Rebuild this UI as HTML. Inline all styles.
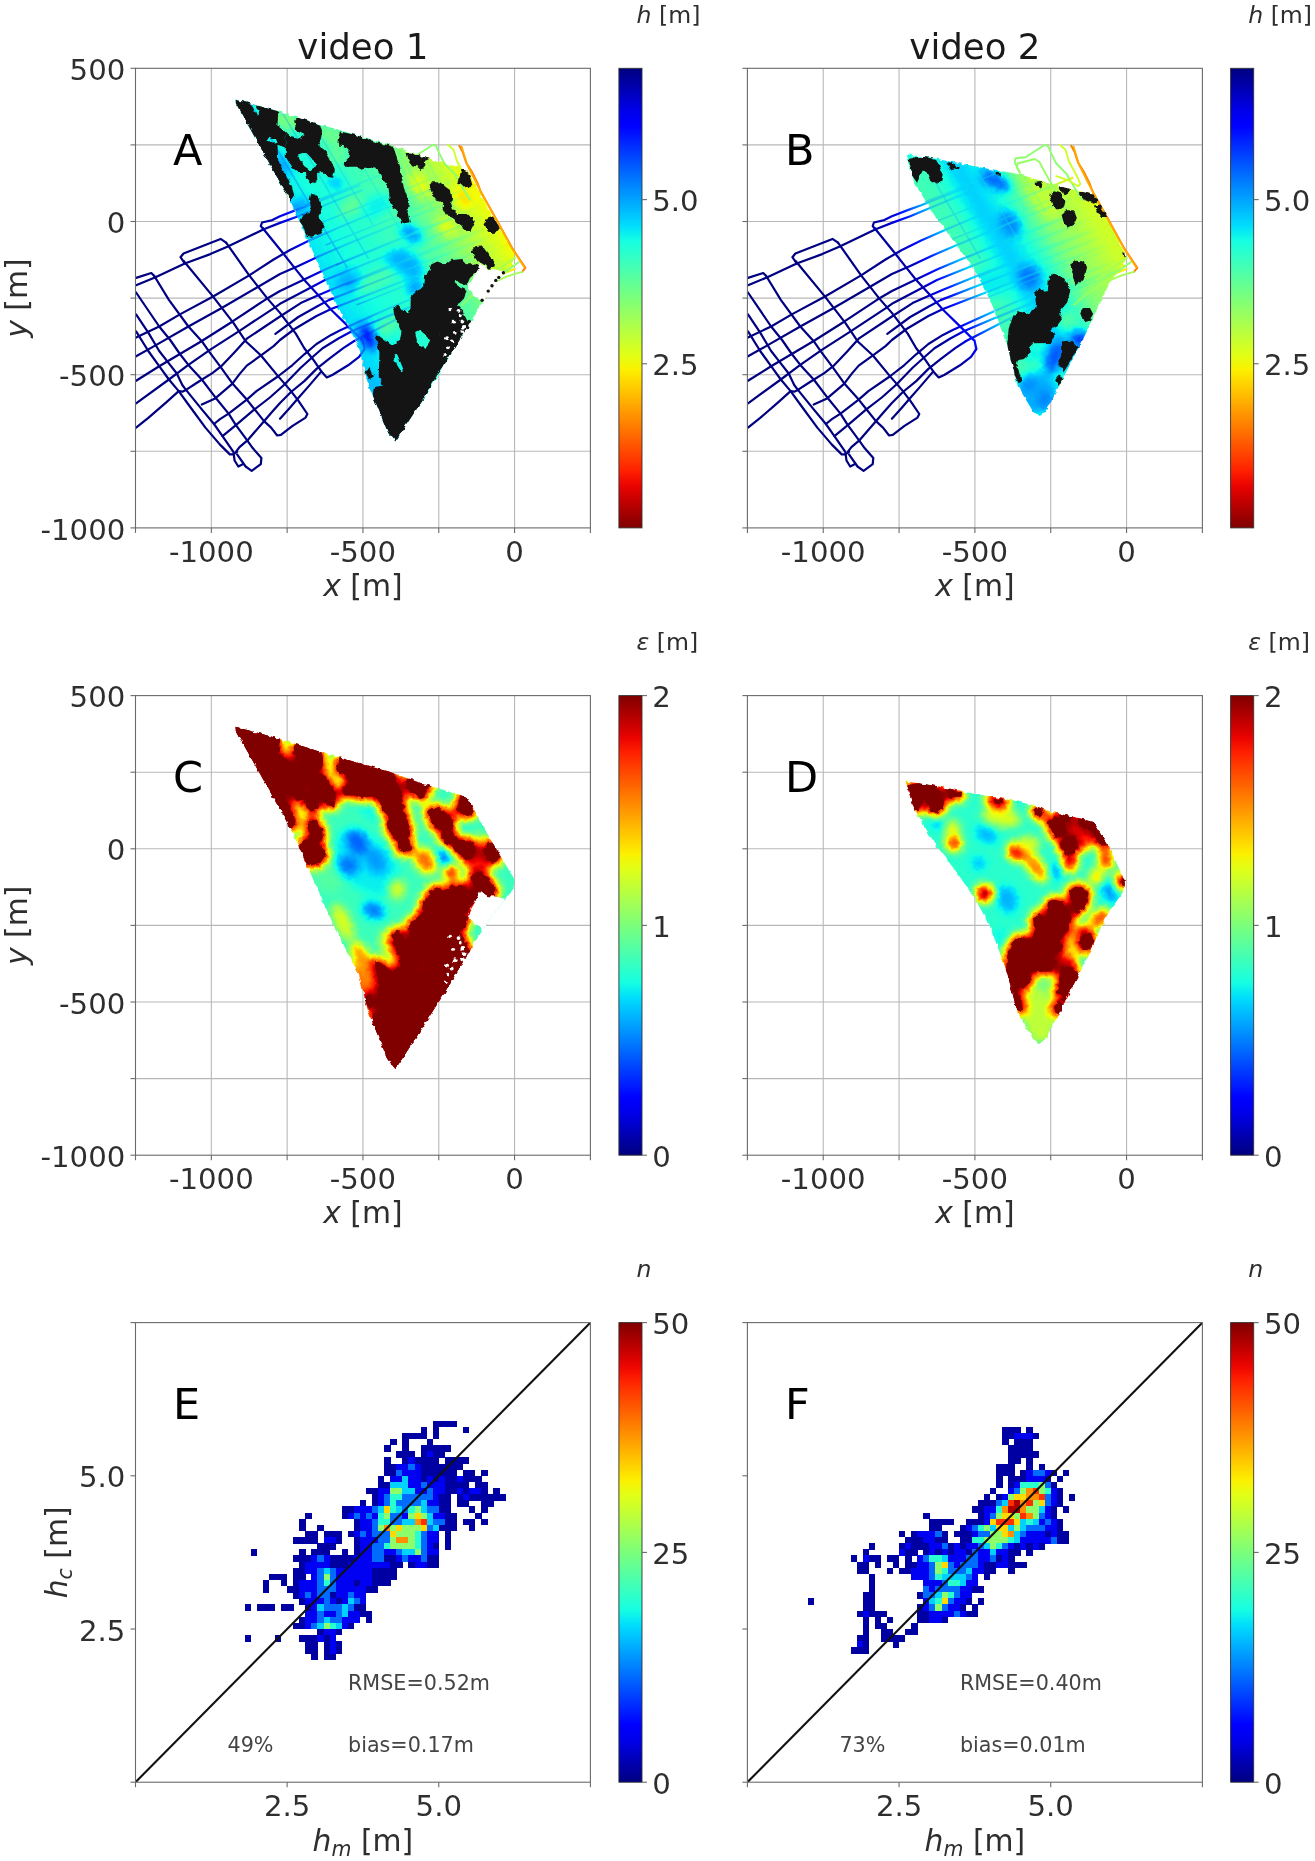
<!DOCTYPE html>
<html><head><meta charset="utf-8"><title>figure</title>
<style>html,body{margin:0;padding:0;background:#fff;}svg{display:block;opacity:0.999;}</style></head>
<body>
<svg width="1315" height="1861" viewBox="0 0 1315 1861" font-family="DejaVu Sans, Liberation Sans, sans-serif"><defs><linearGradient id="gjr" x1="0" y1="0" x2="0" y2="1"><stop offset="0.0000" stop-color="#000080"/><stop offset="0.0312" stop-color="#0000a4"/><stop offset="0.0625" stop-color="#0000c8"/><stop offset="0.0938" stop-color="#0000ec"/><stop offset="0.1250" stop-color="#0000ff"/><stop offset="0.1562" stop-color="#0020ff"/><stop offset="0.1875" stop-color="#0040ff"/><stop offset="0.2188" stop-color="#0060ff"/><stop offset="0.2500" stop-color="#0080ff"/><stop offset="0.2812" stop-color="#009fff"/><stop offset="0.3125" stop-color="#00bfff"/><stop offset="0.3438" stop-color="#00dffc"/><stop offset="0.3750" stop-color="#15ffe2"/><stop offset="0.4062" stop-color="#2effc9"/><stop offset="0.4375" stop-color="#48ffaf"/><stop offset="0.4688" stop-color="#62ff95"/><stop offset="0.5000" stop-color="#7bff7b"/><stop offset="0.5312" stop-color="#95ff62"/><stop offset="0.5625" stop-color="#afff48"/><stop offset="0.5938" stop-color="#c9ff2e"/><stop offset="0.6250" stop-color="#e2ff15"/><stop offset="0.6562" stop-color="#fcf000"/><stop offset="0.6875" stop-color="#ffd200"/><stop offset="0.7188" stop-color="#ffb500"/><stop offset="0.7500" stop-color="#ff9700"/><stop offset="0.7812" stop-color="#ff7a00"/><stop offset="0.8125" stop-color="#ff5c00"/><stop offset="0.8438" stop-color="#ff3f00"/><stop offset="0.8750" stop-color="#ff2100"/><stop offset="0.9062" stop-color="#ec0400"/><stop offset="0.9375" stop-color="#c80000"/><stop offset="0.9688" stop-color="#a40000"/><stop offset="1.0000" stop-color="#800000"/></linearGradient><linearGradient id="gj" x1="0" y1="0" x2="0" y2="1"><stop offset="0.0000" stop-color="#800000"/><stop offset="0.0312" stop-color="#a40000"/><stop offset="0.0625" stop-color="#c80000"/><stop offset="0.0938" stop-color="#ec0400"/><stop offset="0.1250" stop-color="#ff2100"/><stop offset="0.1562" stop-color="#ff3f00"/><stop offset="0.1875" stop-color="#ff5c00"/><stop offset="0.2188" stop-color="#ff7a00"/><stop offset="0.2500" stop-color="#ff9700"/><stop offset="0.2812" stop-color="#ffb500"/><stop offset="0.3125" stop-color="#ffd200"/><stop offset="0.3438" stop-color="#fcf000"/><stop offset="0.3750" stop-color="#e2ff15"/><stop offset="0.4062" stop-color="#c9ff2e"/><stop offset="0.4375" stop-color="#afff48"/><stop offset="0.4688" stop-color="#95ff62"/><stop offset="0.5000" stop-color="#7bff7b"/><stop offset="0.5312" stop-color="#62ff95"/><stop offset="0.5625" stop-color="#48ffaf"/><stop offset="0.5938" stop-color="#2effc9"/><stop offset="0.6250" stop-color="#15ffe2"/><stop offset="0.6562" stop-color="#00dffc"/><stop offset="0.6875" stop-color="#00bfff"/><stop offset="0.7188" stop-color="#009fff"/><stop offset="0.7500" stop-color="#0080ff"/><stop offset="0.7812" stop-color="#0060ff"/><stop offset="0.8125" stop-color="#0040ff"/><stop offset="0.8438" stop-color="#0020ff"/><stop offset="0.8750" stop-color="#0000ff"/><stop offset="0.9062" stop-color="#0000ec"/><stop offset="0.9375" stop-color="#0000c8"/><stop offset="0.9688" stop-color="#0000a4"/><stop offset="1.0000" stop-color="#000080"/></linearGradient><clipPath id="cpA"><polygon points="235.5,99.5 278.2,111.3 319.3,124.2 392.3,145.5 425.4,157.4 446.1,163.5 460.7,167.7 468.0,171.4 492.3,215.2 514.5,252.0 513.5,261.0 506.0,272.0 498.8,279.0 483.6,300.2 442.5,368.6 421.3,402.1 395.4,441.6 387.8,432.5 368.0,383.8 358.9,347.3 334.6,300.2 290.4,201.0 235.6,102.9"/></clipPath><clipPath id="cpB"><polygon points="906.7,154.3 938.0,159.0 976.0,166.6 1014.1,173.3 1033.1,178.0 1052.1,184.7 1080.6,191.3 1093.9,195.1 1107.2,216.0 1124.3,252.2 1125.3,261.7 1109.1,284.5 1101.4,299.5 1086.2,333.0 1057.3,389.3 1045.2,412.1 1039.1,416.7 1031.5,409.0 1017.8,386.2 1007.1,345.2 998.0,320.8 989.4,297.8 976.0,273.1 957.0,245.5 936.1,217.9 914.3,182.8 906.7,158.0"/></clipPath><clipPath id="cpC"><polygon points="235.5,726.8 278.2,738.6 319.3,751.5 392.3,772.8 425.4,784.7 446.1,790.8 460.7,795.0 468.0,798.7 492.3,842.5 514.5,879.3 513.5,888.3 506.0,899.3 498.8,906.3 483.6,927.5 442.5,995.9 421.3,1029.4 395.4,1068.9 387.8,1059.8 368.0,1011.1 358.9,974.6 334.6,927.5 290.4,828.3 235.6,730.2"/></clipPath><clipPath id="cpD"><polygon points="906.7,781.6 938.0,786.3 976.0,793.9 1014.1,800.6 1033.1,805.3 1052.1,812.0 1080.6,818.6 1093.9,822.4 1107.2,843.3 1124.3,879.5 1125.3,889.0 1109.1,911.8 1101.4,926.8 1086.2,960.3 1057.3,1016.6 1045.2,1039.4 1039.1,1044.0 1031.5,1036.3 1017.8,1013.5 1007.1,972.5 998.0,948.1 989.4,925.1 976.0,900.4 957.0,872.8 936.1,845.2 914.3,810.1 906.7,785.3"/></clipPath><clipPath id="ax00"><rect x="135.5" y="68.3" width="454.9" height="459.59999999999997"/></clipPath><clipPath id="ax01"><rect x="135.5" y="695.6" width="454.9" height="459.6"/></clipPath><clipPath id="ax02"><rect x="135.5" y="1322.6" width="454.9" height="459.60000000000014"/></clipPath><clipPath id="ax10"><rect x="747.4" y="68.3" width="455.0000000000001" height="459.59999999999997"/></clipPath><clipPath id="ax11"><rect x="747.4" y="695.6" width="455.0000000000001" height="459.6"/></clipPath><clipPath id="ax12"><rect x="747.4" y="1322.6" width="455.0000000000001" height="459.60000000000014"/></clipPath><clipPath id="cpAo"><path clip-rule="evenodd" d="M0,0H1315V1861H0Z M235.5,99.5 L278.2,111.3 L319.3,124.2 L392.3,145.5 L425.4,157.4 L446.1,163.5 L460.7,167.7 L468.0,171.4 L492.3,215.2 L514.5,252.0 L513.5,261.0 L506.0,272.0 L498.8,279.0 L483.6,300.2 L442.5,368.6 L421.3,402.1 L395.4,441.6 L387.8,432.5 L368.0,383.8 L358.9,347.3 L334.6,300.2 L290.4,201.0 L235.6,102.9Z"/></clipPath><clipPath id="cpBo"><path clip-rule="evenodd" d="M0,0H1315V1861H0Z M906.7,154.3 L938.0,159.0 L976.0,166.6 L1014.1,173.3 L1033.1,178.0 L1052.1,184.7 L1080.6,191.3 L1093.9,195.1 L1107.2,216.0 L1124.3,252.2 L1125.3,261.7 L1109.1,284.5 L1101.4,299.5 L1086.2,333.0 L1057.3,389.3 L1045.2,412.1 L1039.1,416.7 L1031.5,409.0 L1017.8,386.2 L1007.1,345.2 L998.0,320.8 L989.4,297.8 L976.0,273.1 L957.0,245.5 L936.1,217.9 L914.3,182.8 L906.7,158.0Z"/></clipPath><linearGradient id="tgA" gradientUnits="userSpaceOnUse" x1="34.4" y1="-20.3" x2="279.8" y2="-165.1"><stop offset="0.000" stop-color="#000080"/><stop offset="0.211" stop-color="#00008b"/><stop offset="0.281" stop-color="#0000ae"/><stop offset="0.333" stop-color="#0000f3"/><stop offset="0.368" stop-color="#0024ff"/><stop offset="0.404" stop-color="#0075ff"/><stop offset="0.456" stop-color="#00d1ff"/><stop offset="0.561" stop-color="#19ffde"/><stop offset="0.737" stop-color="#52ffa5"/><stop offset="0.860" stop-color="#adff4a"/><stop offset="0.930" stop-color="#ffec00"/><stop offset="0.968" stop-color="#ff8e00"/><stop offset="1.000" stop-color="#ff6800"/></linearGradient><linearGradient id="tgB" gradientUnits="userSpaceOnUse" x1="646.3" y1="-20.3" x2="891.7" y2="-165.1"><stop offset="0.000" stop-color="#000080"/><stop offset="0.211" stop-color="#00008b"/><stop offset="0.281" stop-color="#0000ae"/><stop offset="0.333" stop-color="#0000f3"/><stop offset="0.368" stop-color="#0024ff"/><stop offset="0.404" stop-color="#0075ff"/><stop offset="0.456" stop-color="#00d1ff"/><stop offset="0.561" stop-color="#19ffde"/><stop offset="0.737" stop-color="#52ffa5"/><stop offset="0.860" stop-color="#adff4a"/><stop offset="0.930" stop-color="#ffec00"/><stop offset="0.968" stop-color="#ff8e00"/><stop offset="1.000" stop-color="#ff6800"/></linearGradient><linearGradient id="tgAi" gradientUnits="userSpaceOnUse" x1="34.4" y1="-20.3" x2="279.8" y2="-165.1"><stop offset="0.000" stop-color="#000080"/><stop offset="0.211" stop-color="#00008b"/><stop offset="0.281" stop-color="#0000ae"/><stop offset="0.333" stop-color="#0000f3"/><stop offset="0.368" stop-color="#0024ff"/><stop offset="0.404" stop-color="#0038ff"/><stop offset="0.456" stop-color="#0094ff"/><stop offset="0.561" stop-color="#00c7ff"/><stop offset="0.737" stop-color="#21ffd6"/><stop offset="0.860" stop-color="#7bff7b"/><stop offset="0.930" stop-color="#ceff29"/><stop offset="0.968" stop-color="#ffc600"/><stop offset="1.000" stop-color="#ffa100"/></linearGradient><linearGradient id="tgBi" gradientUnits="userSpaceOnUse" x1="646.3" y1="-20.3" x2="891.7" y2="-165.1"><stop offset="0.000" stop-color="#000080"/><stop offset="0.211" stop-color="#00008b"/><stop offset="0.281" stop-color="#0000ae"/><stop offset="0.333" stop-color="#0000f3"/><stop offset="0.368" stop-color="#0024ff"/><stop offset="0.404" stop-color="#0038ff"/><stop offset="0.456" stop-color="#0094ff"/><stop offset="0.561" stop-color="#00c7ff"/><stop offset="0.737" stop-color="#21ffd6"/><stop offset="0.860" stop-color="#7bff7b"/><stop offset="0.930" stop-color="#ceff29"/><stop offset="0.968" stop-color="#ffc600"/><stop offset="1.000" stop-color="#ffa100"/></linearGradient><linearGradient id="bgA" gradientUnits="userSpaceOnUse" x1="86.1" y1="-50.8" x2="292.7" y2="-172.7"><stop offset="0.000" stop-color="#4c4c4c"/><stop offset="0.208" stop-color="#5c5c5c"/><stop offset="0.417" stop-color="#666666"/><stop offset="0.625" stop-color="#757575"/><stop offset="0.792" stop-color="#949494"/><stop offset="0.917" stop-color="#a8a8a8"/></linearGradient><linearGradient id="bgB" gradientUnits="userSpaceOnUse" x1="698.0" y1="-50.8" x2="904.6" y2="-172.7"><stop offset="0.000" stop-color="#6b6b6b"/><stop offset="0.208" stop-color="#707070"/><stop offset="0.354" stop-color="#6b6b6b"/><stop offset="0.467" stop-color="#525252"/><stop offset="0.562" stop-color="#616161"/><stop offset="0.667" stop-color="#808080"/><stop offset="0.833" stop-color="#969696"/><stop offset="0.917" stop-color="#a1a1a1"/></linearGradient><filter id="jm5" x="-10%" y="-10%" width="120%" height="120%" color-interpolation-filters="sRGB"><feGaussianBlur stdDeviation="5"/><feComponentTransfer><feFuncR type="table" tableValues="0.000 0.000 0.000 0.000 0.000 0.000 0.000 0.000 0.000 0.000 0.000 0.000 0.000 0.000 0.000 0.000 0.000 0.000 0.000 0.000 0.000 0.000 0.000 0.030 0.081 0.131 0.181 0.232 0.282 0.333 0.383 0.433 0.484 0.534 0.585 0.635 0.685 0.736 0.786 0.837 0.887 0.937 0.988 1.000 1.000 1.000 1.000 1.000 1.000 1.000 1.000 1.000 1.000 1.000 1.000 1.000 1.000 0.997 0.926 0.855 0.784 0.713 0.642 0.571 0.500"/><feFuncG type="table" tableValues="0.000 0.000 0.000 0.000 0.000 0.000 0.000 0.000 0.000 0.062 0.125 0.188 0.250 0.312 0.375 0.438 0.500 0.562 0.625 0.688 0.750 0.812 0.875 0.938 1.000 1.000 1.000 1.000 1.000 1.000 1.000 1.000 1.000 1.000 1.000 1.000 1.000 1.000 1.000 1.000 1.000 0.998 0.940 0.882 0.824 0.766 0.708 0.650 0.593 0.535 0.477 0.419 0.361 0.303 0.245 0.188 0.130 0.072 0.014 0.000 0.000 0.000 0.000 0.000 0.000"/><feFuncB type="table" tableValues="0.500 0.571 0.642 0.713 0.784 0.855 0.926 0.997 1.000 1.000 1.000 1.000 1.000 1.000 1.000 1.000 1.000 1.000 1.000 1.000 1.000 1.000 0.988 0.938 0.887 0.837 0.786 0.736 0.685 0.635 0.585 0.534 0.484 0.433 0.383 0.333 0.282 0.232 0.181 0.131 0.081 0.030 0.000 0.000 0.000 0.000 0.000 0.000 0.000 0.000 0.000 0.000 0.000 0.000 0.000 0.000 0.000 0.000 0.000 0.000 0.000 0.000 0.000 0.000 0.000"/></feComponentTransfer></filter><filter id="jm3" x="-10%" y="-10%" width="120%" height="120%" color-interpolation-filters="sRGB"><feGaussianBlur stdDeviation="4.4"/><feComponentTransfer><feFuncR type="table" tableValues="0.000 0.000 0.000 0.000 0.000 0.000 0.000 0.000 0.000 0.000 0.000 0.000 0.000 0.000 0.000 0.000 0.000 0.000 0.000 0.000 0.000 0.000 0.000 0.030 0.081 0.131 0.181 0.232 0.282 0.333 0.383 0.433 0.484 0.534 0.585 0.635 0.685 0.736 0.786 0.837 0.887 0.937 0.988 1.000 1.000 1.000 1.000 1.000 1.000 1.000 1.000 1.000 1.000 1.000 1.000 1.000 1.000 0.997 0.926 0.855 0.784 0.713 0.642 0.571 0.500"/><feFuncG type="table" tableValues="0.000 0.000 0.000 0.000 0.000 0.000 0.000 0.000 0.000 0.062 0.125 0.188 0.250 0.312 0.375 0.438 0.500 0.562 0.625 0.688 0.750 0.812 0.875 0.938 1.000 1.000 1.000 1.000 1.000 1.000 1.000 1.000 1.000 1.000 1.000 1.000 1.000 1.000 1.000 1.000 1.000 0.998 0.940 0.882 0.824 0.766 0.708 0.650 0.593 0.535 0.477 0.419 0.361 0.303 0.245 0.188 0.130 0.072 0.014 0.000 0.000 0.000 0.000 0.000 0.000"/><feFuncB type="table" tableValues="0.500 0.571 0.642 0.713 0.784 0.855 0.926 0.997 1.000 1.000 1.000 1.000 1.000 1.000 1.000 1.000 1.000 1.000 1.000 1.000 1.000 1.000 0.988 0.938 0.887 0.837 0.786 0.736 0.685 0.635 0.585 0.534 0.484 0.433 0.383 0.333 0.282 0.232 0.181 0.131 0.081 0.030 0.000 0.000 0.000 0.000 0.000 0.000 0.000 0.000 0.000 0.000 0.000 0.000 0.000 0.000 0.000 0.000 0.000 0.000 0.000 0.000 0.000 0.000 0.000"/></feComponentTransfer></filter><filter id="jm2" x="-10%" y="-10%" width="120%" height="120%" color-interpolation-filters="sRGB"><feGaussianBlur stdDeviation="2.2"/><feComponentTransfer><feFuncR type="table" tableValues="0.000 0.000 0.000 0.000 0.000 0.000 0.000 0.000 0.000 0.000 0.000 0.000 0.000 0.000 0.000 0.000 0.000 0.000 0.000 0.000 0.000 0.000 0.000 0.030 0.081 0.131 0.181 0.232 0.282 0.333 0.383 0.433 0.484 0.534 0.585 0.635 0.685 0.736 0.786 0.837 0.887 0.937 0.988 1.000 1.000 1.000 1.000 1.000 1.000 1.000 1.000 1.000 1.000 1.000 1.000 1.000 1.000 0.997 0.926 0.855 0.784 0.713 0.642 0.571 0.500"/><feFuncG type="table" tableValues="0.000 0.000 0.000 0.000 0.000 0.000 0.000 0.000 0.000 0.062 0.125 0.188 0.250 0.312 0.375 0.438 0.500 0.562 0.625 0.688 0.750 0.812 0.875 0.938 1.000 1.000 1.000 1.000 1.000 1.000 1.000 1.000 1.000 1.000 1.000 1.000 1.000 1.000 1.000 1.000 1.000 0.998 0.940 0.882 0.824 0.766 0.708 0.650 0.593 0.535 0.477 0.419 0.361 0.303 0.245 0.188 0.130 0.072 0.014 0.000 0.000 0.000 0.000 0.000 0.000"/><feFuncB type="table" tableValues="0.500 0.571 0.642 0.713 0.784 0.855 0.926 0.997 1.000 1.000 1.000 1.000 1.000 1.000 1.000 1.000 1.000 1.000 1.000 1.000 1.000 1.000 0.988 0.938 0.887 0.837 0.786 0.736 0.685 0.635 0.585 0.534 0.484 0.433 0.383 0.333 0.282 0.232 0.181 0.131 0.081 0.030 0.000 0.000 0.000 0.000 0.000 0.000 0.000 0.000 0.000 0.000 0.000 0.000 0.000 0.000 0.000 0.000 0.000 0.000 0.000 0.000 0.000 0.000 0.000"/></feComponentTransfer></filter><filter id="jm7" x="-10%" y="-10%" width="120%" height="120%" color-interpolation-filters="sRGB"><feGaussianBlur stdDeviation="7"/><feComponentTransfer><feFuncR type="table" tableValues="0.000 0.000 0.000 0.000 0.000 0.000 0.000 0.000 0.000 0.000 0.000 0.000 0.000 0.000 0.000 0.000 0.000 0.000 0.000 0.000 0.000 0.000 0.000 0.030 0.081 0.131 0.181 0.232 0.282 0.333 0.383 0.433 0.484 0.534 0.585 0.635 0.685 0.736 0.786 0.837 0.887 0.937 0.988 1.000 1.000 1.000 1.000 1.000 1.000 1.000 1.000 1.000 1.000 1.000 1.000 1.000 1.000 0.997 0.926 0.855 0.784 0.713 0.642 0.571 0.500"/><feFuncG type="table" tableValues="0.000 0.000 0.000 0.000 0.000 0.000 0.000 0.000 0.000 0.062 0.125 0.188 0.250 0.312 0.375 0.438 0.500 0.562 0.625 0.688 0.750 0.812 0.875 0.938 1.000 1.000 1.000 1.000 1.000 1.000 1.000 1.000 1.000 1.000 1.000 1.000 1.000 1.000 1.000 1.000 1.000 0.998 0.940 0.882 0.824 0.766 0.708 0.650 0.593 0.535 0.477 0.419 0.361 0.303 0.245 0.188 0.130 0.072 0.014 0.000 0.000 0.000 0.000 0.000 0.000"/><feFuncB type="table" tableValues="0.500 0.571 0.642 0.713 0.784 0.855 0.926 0.997 1.000 1.000 1.000 1.000 1.000 1.000 1.000 1.000 1.000 1.000 1.000 1.000 1.000 1.000 0.988 0.938 0.887 0.837 0.786 0.736 0.685 0.635 0.585 0.534 0.484 0.433 0.383 0.333 0.282 0.232 0.181 0.131 0.081 0.030 0.000 0.000 0.000 0.000 0.000 0.000 0.000 0.000 0.000 0.000 0.000 0.000 0.000 0.000 0.000 0.000 0.000 0.000 0.000 0.000 0.000 0.000 0.000"/></feComponentTransfer></filter><filter id="rag" x="-5%" y="-5%" width="110%" height="110%" color-interpolation-filters="sRGB"><feTurbulence type="fractalNoise" baseFrequency="0.22" numOctaves="1" seed="7" result="n"/><feDisplacementMap in="SourceGraphic" in2="n" scale="4.5" xChannelSelector="R" yChannelSelector="G"/></filter></defs>
<line x1="211.32" y1="68.30" x2="211.32" y2="527.90" stroke="#b8b8b8" stroke-width="1.1"/>
<line x1="135.50" y1="144.90" x2="590.40" y2="144.90" stroke="#b8b8b8" stroke-width="1.1"/>
<line x1="287.13" y1="68.30" x2="287.13" y2="527.90" stroke="#b8b8b8" stroke-width="1.1"/>
<line x1="135.50" y1="221.50" x2="590.40" y2="221.50" stroke="#b8b8b8" stroke-width="1.1"/>
<line x1="362.95" y1="68.30" x2="362.95" y2="527.90" stroke="#b8b8b8" stroke-width="1.1"/>
<line x1="135.50" y1="298.10" x2="590.40" y2="298.10" stroke="#b8b8b8" stroke-width="1.1"/>
<line x1="438.77" y1="68.30" x2="438.77" y2="527.90" stroke="#b8b8b8" stroke-width="1.1"/>
<line x1="135.50" y1="374.70" x2="590.40" y2="374.70" stroke="#b8b8b8" stroke-width="1.1"/>
<line x1="514.58" y1="68.30" x2="514.58" y2="527.90" stroke="#b8b8b8" stroke-width="1.1"/>
<line x1="135.50" y1="451.30" x2="590.40" y2="451.30" stroke="#b8b8b8" stroke-width="1.1"/>
<g clip-path="url(#ax00)"><g filter="url(#rag)"><g clip-path="url(#cpA)"><g filter="url(#jm5)"><rect x="200" y="60" width="360" height="420" fill="url(#bgA)"/><ellipse cx="285.8" cy="120.4" rx="16" ry="9" fill="#808080" transform="rotate(20 285.8 120.4)"/><ellipse cx="331.5" cy="135.6" rx="18" ry="9" fill="#7a7a7a" transform="rotate(20 331.5 135.6)"/><ellipse cx="336.0" cy="155.4" rx="10" ry="8" fill="#787878" transform="rotate(0 336.0 155.4)"/><ellipse cx="351.2" cy="205.6" rx="14" ry="8" fill="#787878" transform="rotate(-40 351.2 205.6)"/><ellipse cx="281.3" cy="166.0" rx="7" ry="12" fill="#474747" transform="rotate(-30 281.3 166.0)"/><ellipse cx="298.0" cy="207.1" rx="12" ry="6" fill="#454545" transform="rotate(-20 298.0 207.1)"/><ellipse cx="336.0" cy="182.8" rx="8" ry="5" fill="#4a4a4a" transform="rotate(30 336.0 182.8)"/><ellipse cx="412.1" cy="233.0" rx="12" ry="7" fill="#404040" transform="rotate(35 412.1 233.0)"/><ellipse cx="377.1" cy="205.6" rx="16" ry="10" fill="#5c5c5c" transform="rotate(-30 377.1 205.6)"/><ellipse cx="419.3" cy="184.8" rx="14" ry="8" fill="#a3a3a3" transform="rotate(55 419.3 184.8)"/><ellipse cx="463.1" cy="198.1" rx="12" ry="8" fill="#adadad" transform="rotate(55 463.1 198.1)"/><ellipse cx="446.1" cy="227.3" rx="11" ry="7" fill="#a3a3a3" transform="rotate(40 446.1 227.3)"/><ellipse cx="410.8" cy="234.6" rx="14" ry="7" fill="#454545" transform="rotate(35 410.8 234.6)"/><ellipse cx="407.2" cy="263.8" rx="20" ry="12" fill="#4c4c4c" transform="rotate(40 407.2 263.8)"/><ellipse cx="368.0" cy="336.7" rx="6" ry="14" fill="#1a1a1a" transform="rotate(-25 368.0 336.7)"/><ellipse cx="375.6" cy="280.4" rx="22" ry="8" fill="#707070" transform="rotate(-30 375.6 280.4)"/><ellipse cx="348.3" cy="280.4" rx="12" ry="10" fill="#4c4c4c" transform="rotate(0 348.3 280.4)"/><ellipse cx="395.4" cy="259.1" rx="12" ry="7" fill="#4c4c4c" transform="rotate(0 395.4 259.1)"/><ellipse cx="415.2" cy="288.0" rx="9" ry="7" fill="#424242" transform="rotate(0 415.2 288.0)"/><ellipse cx="387.8" cy="326.0" rx="14" ry="8" fill="#737373" transform="rotate(-35 387.8 326.0)"/><ellipse cx="375.6" cy="382.3" rx="8" ry="5" fill="#4c4c4c" transform="rotate(0 375.6 382.3)"/></g></g></g><g clip-path="url(#cpAo)"><g fill="none" stroke="url(#tgA)" stroke-width="2.2" stroke-linejoin="round" stroke-linecap="round" opacity="1"><polyline points="136.1,285.2 155.5,277.3 184.8,263.5 210.3,254.1 227.3,246.8 263.8,229.2 280.0,222.9 298.3,216.2 330.0,203.0 345.9,196.5 361.9,190.2"/><polyline points="136.1,277.9 151.3,273.0 154.3,276.0"/><polyline points="184.8,263.5 180.5,257.2 183.5,253.5 220.6,238.9 226.1,242.6"/><polyline points="263.8,229.2 260.8,226.2 262.0,222.5 272.4,220.1 280.0,216.2 295.8,210.1 309.2,205.2 335.0,195.0 347.0,190.2 359.1,185.4"/><polyline points="154.3,276.0 168.9,299.8 188.4,326.5 201.8,341.2 209.1,351.6 220.0,366.2 232.2,383.2 246.8,399.6 254.1,408.7 263.8,420.9 271.1,427.6 277.2,435.5 280.9,434.9 292.2,426.1 305.6,417.6 307.4,414.0 298.3,400.6 290.0,389.9 277.8,375.9 260.8,355.2 245.6,341.2 233.4,322.9 212.7,296.1 183.5,260.8"/><polyline points="226.1,242.6 249.2,275.4 267.5,298.6 280.0,312.9 295.8,333.6 304.3,348.3 312.9,359.2 321.4,371.4 326.8,377.5 332.3,375.0 348.1,365.3 359.1,356.8 364.5,349.0 362.7,340.9 346.9,325.1 331.1,309.8 317.7,294.6 304.3,280.0 294.6,267.9 283.3,253.5 262.6,228.0"/><polyline points="136.1,292.5 159.2,326.5 170.2,340.0 179.9,354.0 188.4,364.9 201.8,379.5 215.2,397.2 228.6,413.6 235.9,425.2 246.8,439.8 252.9,448.3 261.4,458.0 260.8,464.1 251.7,470.8 245.6,466.5 237.1,454.4"/><polyline points="136.1,314.4 148.3,332.6 159.2,351.0 167.7,361.9 176.8,373.5 182.3,385.0 186.0,389.9 201.8,409.4 214.0,424.0 222.5,436.1 233.4,451.9 234.6,460.5 238.3,466.5 243.2,464.1"/><polyline points="136.1,331.4 148.3,351.0 159.2,366.2 168.9,379.5 178.7,391.1 188.4,404.5 205.4,427.6 220.0,444.6 229.8,454.4 233.4,454.4 237.1,451.9"/><polyline points="136.1,337.5 159.2,326.5 179.9,314.4 212.7,296.7 249.2,275.4 273.6,259.5 290.0,250.0 309.2,240.5 340.0,227.0 400.0,201.9 460.4,177.9"/><polyline points="136.1,356.3 155.5,345.4 188.4,326.5 221.3,308.3 257.8,287.0 280.0,274.0 298.3,266.0 320.1,255.7 345.0,245.0 407.3,219.2 470.1,194.3"/><polyline points="136.1,380.8 159.2,366.2 179.9,354.0 200.6,341.7 232.2,321.7 265.1,299.8 280.0,291.0 303.1,280.0 326.2,269.1 350.0,259.0 413.7,232.8 477.7,207.3"/><polyline points="136.1,403.3 168.9,379.5 188.4,364.9 210.3,349.6 239.5,330.8 273.6,308.3 280.0,303.8 304.3,291.0 325.0,280.0 355.0,268.0 419.1,242.4 483.3,216.9"/><polyline points="136.1,427.6 148.3,417.9 166.5,402.1 178.7,391.1 182.3,391.7 186.0,389.9 198.1,382.0 212.7,372.9 221.3,366.2 234.6,352.2 246.8,338.7 280.0,316.5 300.7,303.1 316.5,295.9 331.1,289.8 360.0,278.0 424.4,252.1 488.9,226.4"/><polyline points="275.4,333.8 298.3,317.0 316.5,306.8 328.7,300.1 365.0,286.0 429.5,260.7 493.9,235.0"/><polyline points="201.8,404.5 215.2,398.4 232.2,383.8 239.5,374.1 246.8,365.6 261.4,355.2 273.6,346.1 280.0,340.0 294.6,329.0 316.5,316.0 331.1,309.0 370.0,294.0 434.4,268.8 498.7,243.2"/><polyline points="214.0,424.0 220.0,419.1 228.6,413.6 246.8,399.6 256.5,391.1 277.8,376.5 292.2,365.3 304.3,354.3 316.5,344.0 331.1,334.9 340.8,330.0 385.0,310.0 446.4,283.9 508.5,259.2"/><polyline points="222.5,436.1 235.9,425.2 254.1,409.7 269.9,397.5 284.5,384.5 300.7,367.7 312.9,356.8 322.6,348.2 338.4,338.5 351.8,331.2 390.0,315.0 450.9,290.0 512.1,265.6"/><polyline points="235.9,451.9 239.5,447.1 248.0,439.8 263.8,421.5 271.1,413.0 280.0,403.0 291.0,392.0 304.3,381.1 316.5,368.9 328.7,359.2 343.3,348.2 354.2,341.0 395.0,320.0 454.1,293.1 514.5,269.1"/><polyline points="280.0,418.8 289.7,407.9 298.3,398.1 306.8,388.4 321.4,371.4"/></g></g><g clip-path="url(#cpA)"><g fill="none" stroke="url(#tgAi)" stroke-width="2.2" stroke-linejoin="round" stroke-linecap="round" opacity="0.42"><polyline points="136.1,285.2 155.5,277.3 184.8,263.5 210.3,254.1 227.3,246.8 263.8,229.2 280.0,222.9 298.3,216.2 330.0,203.0 345.9,196.5 361.9,190.2"/><polyline points="136.1,277.9 151.3,273.0 154.3,276.0"/><polyline points="184.8,263.5 180.5,257.2 183.5,253.5 220.6,238.9 226.1,242.6"/><polyline points="263.8,229.2 260.8,226.2 262.0,222.5 272.4,220.1 280.0,216.2 295.8,210.1 309.2,205.2 335.0,195.0 347.0,190.2 359.1,185.4"/><polyline points="154.3,276.0 168.9,299.8 188.4,326.5 201.8,341.2 209.1,351.6 220.0,366.2 232.2,383.2 246.8,399.6 254.1,408.7 263.8,420.9 271.1,427.6 277.2,435.5 280.9,434.9 292.2,426.1 305.6,417.6 307.4,414.0 298.3,400.6 290.0,389.9 277.8,375.9 260.8,355.2 245.6,341.2 233.4,322.9 212.7,296.1 183.5,260.8"/><polyline points="226.1,242.6 249.2,275.4 267.5,298.6 280.0,312.9 295.8,333.6 304.3,348.3 312.9,359.2 321.4,371.4 326.8,377.5 332.3,375.0 348.1,365.3 359.1,356.8 364.5,349.0 362.7,340.9 346.9,325.1 331.1,309.8 317.7,294.6 304.3,280.0 294.6,267.9 283.3,253.5 262.6,228.0"/><polyline points="136.1,292.5 159.2,326.5 170.2,340.0 179.9,354.0 188.4,364.9 201.8,379.5 215.2,397.2 228.6,413.6 235.9,425.2 246.8,439.8 252.9,448.3 261.4,458.0 260.8,464.1 251.7,470.8 245.6,466.5 237.1,454.4"/><polyline points="136.1,314.4 148.3,332.6 159.2,351.0 167.7,361.9 176.8,373.5 182.3,385.0 186.0,389.9 201.8,409.4 214.0,424.0 222.5,436.1 233.4,451.9 234.6,460.5 238.3,466.5 243.2,464.1"/><polyline points="136.1,331.4 148.3,351.0 159.2,366.2 168.9,379.5 178.7,391.1 188.4,404.5 205.4,427.6 220.0,444.6 229.8,454.4 233.4,454.4 237.1,451.9"/><polyline points="136.1,337.5 159.2,326.5 179.9,314.4 212.7,296.7 249.2,275.4 273.6,259.5 290.0,250.0 309.2,240.5 340.0,227.0 400.0,201.9 460.4,177.9"/><polyline points="136.1,356.3 155.5,345.4 188.4,326.5 221.3,308.3 257.8,287.0 280.0,274.0 298.3,266.0 320.1,255.7 345.0,245.0 407.3,219.2 470.1,194.3"/><polyline points="136.1,380.8 159.2,366.2 179.9,354.0 200.6,341.7 232.2,321.7 265.1,299.8 280.0,291.0 303.1,280.0 326.2,269.1 350.0,259.0 413.7,232.8 477.7,207.3"/><polyline points="136.1,403.3 168.9,379.5 188.4,364.9 210.3,349.6 239.5,330.8 273.6,308.3 280.0,303.8 304.3,291.0 325.0,280.0 355.0,268.0 419.1,242.4 483.3,216.9"/><polyline points="136.1,427.6 148.3,417.9 166.5,402.1 178.7,391.1 182.3,391.7 186.0,389.9 198.1,382.0 212.7,372.9 221.3,366.2 234.6,352.2 246.8,338.7 280.0,316.5 300.7,303.1 316.5,295.9 331.1,289.8 360.0,278.0 424.4,252.1 488.9,226.4"/><polyline points="275.4,333.8 298.3,317.0 316.5,306.8 328.7,300.1 365.0,286.0 429.5,260.7 493.9,235.0"/><polyline points="201.8,404.5 215.2,398.4 232.2,383.8 239.5,374.1 246.8,365.6 261.4,355.2 273.6,346.1 280.0,340.0 294.6,329.0 316.5,316.0 331.1,309.0 370.0,294.0 434.4,268.8 498.7,243.2"/><polyline points="214.0,424.0 220.0,419.1 228.6,413.6 246.8,399.6 256.5,391.1 277.8,376.5 292.2,365.3 304.3,354.3 316.5,344.0 331.1,334.9 340.8,330.0 385.0,310.0 446.4,283.9 508.5,259.2"/><polyline points="222.5,436.1 235.9,425.2 254.1,409.7 269.9,397.5 284.5,384.5 300.7,367.7 312.9,356.8 322.6,348.2 338.4,338.5 351.8,331.2 390.0,315.0 450.9,290.0 512.1,265.6"/><polyline points="235.9,451.9 239.5,447.1 248.0,439.8 263.8,421.5 271.1,413.0 280.0,403.0 291.0,392.0 304.3,381.1 316.5,368.9 328.7,359.2 343.3,348.2 354.2,341.0 395.0,320.0 454.1,293.1 514.5,269.1"/><polyline points="280.0,418.8 289.7,407.9 298.3,398.1 306.8,388.4 321.4,371.4"/></g></g><g clip-path="url(#cpA)" fill="none" stroke="url(#tgAi)" stroke-width="1.8" opacity="0.35"><line x1="211.2" y1="37.3" x2="347.2" y2="267.8"/><line x1="233.7" y1="30.2" x2="368.5" y2="258.7"/><line x1="257.0" y1="28.3" x2="372.9" y2="224.8"/><line x1="262.6" y1="-3.4" x2="410.6" y2="247.4"/><line x1="285.7" y1="-5.6" x2="413.4" y2="210.8"/><line x1="315.3" y1="11.1" x2="434.0" y2="212.3"/><line x1="325.0" y1="-2.0" x2="447.1" y2="204.9"/><line x1="332.2" y1="-15.4" x2="450.0" y2="184.3"/><line x1="341.5" y1="-21.1" x2="477.7" y2="209.6"/><line x1="305.1" y1="205.0" x2="455.7" y2="145.1"/><line x1="315.4" y1="225.0" x2="482.2" y2="158.7"/><line x1="325.7" y1="245.0" x2="487.3" y2="180.7"/><line x1="336.0" y1="265.0" x2="452.4" y2="218.7"/><line x1="346.3" y1="285.0" x2="514.3" y2="218.2"/><line x1="356.6" y1="305.0" x2="512.1" y2="243.1"/><line x1="366.9" y1="325.0" x2="500.9" y2="271.7"/></g><g fill="none" stroke-width="1.9" stroke-linejoin="round" stroke-linecap="round"><polyline points="407.9,172.6 402.8,162.4 403.4,158.4 407.9,157.8 413.6,157.2 433.0,144.7 436.4,146.4 438.7,152.1 444.4,163.5 454.7,173.8 457.0,178.3 470.0,200.0" stroke="#8cff6b"/><polyline points="407.9,172.6 405.1,167.5 405.6,163.5 422.8,159.0 427.3,161.7 437.6,180.6 455.0,210.0" stroke="#94ff63"/><polyline points="447.9,144.7 453.6,149.8 457.0,161.2 466.1,178.3 468.4,184.0 466.1,186.3 457.0,180.6 444.4,176.1" stroke="#ceff29"/><polyline points="459.3,145.8 462.7,152.1 466.1,162.4 471.8,171.5 477.5,182.9 480.9,192.0 495.8,218.3 512.9,249.1 525.4,267.9 522.0,271.9" stroke="#ff7b00"/><polyline points="522.0,271.9 514.0,274.2 507.2,276.4 490.0,284.0 470.0,297.0" stroke="#a5ff52"/><polyline points="461.5,146.4 467.2,164.7 479.8,189.8 511.7,247.9 524.3,267.3" stroke="#ffaa00"/><polyline points="519.0,262.0 508.0,270.0 496.0,275.0 478.0,290.0 462.0,305.0" stroke="#8cff6b"/><polyline points="515.0,258.0 500.0,268.0 485.0,280.0" stroke="#a5ff52"/></g><g filter="url(#rag)"><g clip-path="url(#cpA)"><polygon points="480.0,263.9 487.7,268.8 497.4,269.7 505.1,271.7 500.3,281.3 487.7,295.8 481.9,301.6 474.2,295.8 467.4,288.1 474.2,276.5" fill="#fff" /><path d="M235.6,99.9 L244.8,99.1 L258.5,105.2 L277.5,109.8 L278.2,112.8 L277.5,125.7 L285.8,132.6 L285.8,147.8 L277.5,144.8 L278.2,161.5 L285.8,175.2 L291.9,187.3 L294.2,194.9 L290.4,201.0 L282.8,194.9 L235.6,103.7Z M251.6,104.4 L255.4,104.4 L259.2,113.6 L256.2,115.1Z M265.3,139.4 L269.1,136.8 L276.0,139.0 L277.5,142.9 L271.4,143.5Z" fill="#141414" fill-rule="evenodd"/><path d="M285.8,132.6 L290.4,137.1 L298.0,138.7 L304.8,134.9 L296.5,131.1 L294.2,120.4 L296.5,118.1 L304.1,118.1 L320.1,125.3 L322.0,131.8 L320.8,140.2 L318.1,145.1 L325.4,150.8 L329.9,158.4 L334.8,169.1 L333.3,177.9 L328.4,177.0 L322.3,172.1 L317.0,172.9 L317.3,180.0 L311.7,183.1 L307.1,178.5 L305.6,172.1 L298.0,172.1 L291.9,167.6 L285.8,156.9 L285.8,147.8Z M298.0,154.6 L305.6,152.1 L311.7,158.4 L316.3,166.0 L310.2,170.2 L304.1,166.0 L299.5,159.2Z" fill="#141414" fill-rule="evenodd"/><path d="M310.2,193.4 L316.3,194.9 L320.8,202.5 L321.6,210.2 L318.5,216.2 L322.3,222.3 L324.6,226.9 L320.1,233.7 L311.7,236.8 L307.9,236.0 L299.5,220.8 L302.6,214.7 L308.7,213.2 L310.9,205.6 L308.7,199.5Z" fill="#141414" fill-rule="evenodd"/><path d="M339.8,131.4 L355.8,134.9 L377.1,142.5 L392.3,146.3 L393.8,148.6 L399.9,166.0 L403.7,187.3 L409.0,202.5 L407.5,211.7 L409.8,222.3 L401.4,223.8 L396.9,211.7 L390.0,202.5 L388.5,187.3 L383.2,181.3 L381.7,175.2 L377.1,169.8 L371.0,167.6 L361.9,169.8 L355.8,166.8 L345.2,166.8 L342.9,163.0 L348.2,156.9 L349.7,150.8 L345.2,146.3 L339.8,145.5 L337.5,141.7 L339.1,135.6Z" fill="#141414" fill-rule="evenodd"/><path d="M406.6,153.1 L411.4,152.5 L415.7,155.6 L421.2,154.9 L424.8,157.4 L430.3,158.6 L424.8,161.0 L425.4,165.3 L421.2,170.2 L416.9,166.5 L412.0,165.3 L408.4,159.2Z" fill="#141414" fill-rule="evenodd"/><path d="M428.5,184.8 L431.5,182.3 L440.0,182.3 L446.1,187.2 L451.0,190.8 L452.2,198.1 L451.0,203.0 L452.8,209.1 L458.3,214.0 L465.6,214.0 L469.2,217.6 L472.9,217.0 L474.7,222.5 L470.4,231.0 L466.8,231.0 L460.7,226.1 L455.8,222.5 L452.2,216.4 L446.1,215.2 L442.5,207.9 L443.7,203.0 L440.6,200.6 L435.2,199.4 L432.1,193.3Z" fill="#141414" fill-rule="evenodd"/><path d="M461.3,168.9 L466.8,170.8 L469.8,176.2 L472.3,184.8 L468.0,188.4 L464.4,187.2 L460.7,183.5 L457.1,182.9 L459.5,177.5Z" fill="#141414" fill-rule="evenodd"/><path d="M484.4,223.7 L488.7,217.0 L493.6,216.4 L497.8,221.3 L499.6,228.6 L495.4,233.4 L491.1,234.0 L487.5,231.0Z" fill="#141414" fill-rule="evenodd"/><path d="M471.7,250.5 L475.3,246.2 L482.0,245.6 L485.6,250.5 L489.9,256.5 L494.2,261.4 L493.6,267.5 L488.7,268.7 L482.6,263.8 L477.7,261.4 L474.1,256.5Z" fill="#141414" fill-rule="evenodd"/><path d="M431.1,264.4 L437.2,261.4 L445.6,264.4 L451.7,259.9 L462.3,259.1 L466.9,264.4 L474.5,263.7 L479.8,267.5 L476.0,272.8 L469.9,278.1 L466.9,285.0 L459.3,282.7 L456.2,279.7 L454.0,282.7 L460.8,288.0 L466.9,291.1 L463.8,298.7 L459.3,303.2 L451.7,306.3 L447.1,312.4 L454.7,316.9 L453.2,324.5 L445.6,332.1 L439.5,333.7 L444.1,341.3 L442.5,348.9 L447.1,359.5 L442.5,368.6 L436.5,376.2 L421.3,402.1 L412.1,418.8 L395.4,441.6 L387.8,432.5 L378.7,411.2 L372.6,396.0 L374.1,386.9 L383.2,385.4 L378.7,376.2 L379.4,353.4 L375.6,335.2 L380.2,336.7 L386.3,341.3 L392.4,345.8 L400.0,339.7 L401.5,332.1 L395.4,318.4 L393.1,309.3 L397.7,304.0 L403.0,310.8 L407.6,313.9 L410.6,309.3 L410.6,297.1 L416.7,291.1 L422.8,288.0 L424.3,275.9 L428.9,271.3Z M415.2,332.1 L419.7,329.8 L425.8,335.2 L429.6,342.8 L425.1,348.9 L419.7,345.8 L416.7,339.7Z M393.9,354.9 L396.9,353.4 L403.8,370.2 L401.5,372.4 L393.9,359.5Z" fill="#141414" fill-rule="evenodd"/><path d="M365.7,370.2 L369.5,367.9 L371.8,373.2 L374.1,376.2 L369.5,379.3 L366.5,374.7Z" fill="#141414" fill-rule="evenodd"/><path d="M447.1,307.8 L456.2,303.2 L462.3,310.8 L466.9,320.0 L470.7,326.0 L463.8,335.2 L457.8,344.3 L451.7,353.4 L447.1,359.5 L442.5,368.6 L439.5,333.7Z" fill="#141414" fill-rule="evenodd"/><circle cx="450.2" cy="309.3" r="1.9" fill="#fff"/><circle cx="458.5" cy="310.8" r="1.9" fill="#fff"/><circle cx="460.8" cy="315.4" r="1.9" fill="#fff"/><circle cx="462.3" cy="321.5" r="1.9" fill="#fff"/><circle cx="469.9" cy="326.0" r="1.9" fill="#fff"/><circle cx="462.3" cy="332.1" r="1.9" fill="#fff"/><circle cx="454.7" cy="332.9" r="1.9" fill="#fff"/><circle cx="447.1" cy="338.2" r="1.9" fill="#fff"/><circle cx="451.7" cy="341.3" r="1.9" fill="#fff"/><circle cx="447.9" cy="347.3" r="1.9" fill="#fff"/><circle cx="445.6" cy="354.9" r="1.9" fill="#fff"/><circle cx="453.5" cy="321.5" r="1.9" fill="#fff"/><circle cx="463.8" cy="326.8" r="1.9" fill="#fff"/></g></g><circle cx="482.1" cy="300.2" r="1.7" fill="#141414"/><circle cx="488.2" cy="291.1" r="1.7" fill="#141414"/><circle cx="492.0" cy="285.7" r="1.7" fill="#141414"/><circle cx="495.8" cy="280.4" r="1.7" fill="#141414"/><circle cx="498.8" cy="277.4" r="1.7" fill="#141414"/><circle cx="503.4" cy="272.8" r="1.7" fill="#141414"/><circle cx="469.2" cy="321.5" r="1.7" fill="#141414"/><circle cx="467.6" cy="327.6" r="1.7" fill="#141414"/></g>
<rect x="135.50" y="68.30" width="454.90" height="459.60" fill="none" stroke="#6a6a6a" stroke-width="1.1"/>
<line x1="135.50" y1="527.90" x2="135.50" y2="532.90" stroke="#6a6a6a" stroke-width="1.1"/>
<line x1="130.50" y1="68.30" x2="135.50" y2="68.30" stroke="#6a6a6a" stroke-width="1.1"/>
<line x1="211.32" y1="527.90" x2="211.32" y2="532.90" stroke="#6a6a6a" stroke-width="1.1"/>
<line x1="130.50" y1="144.90" x2="135.50" y2="144.90" stroke="#6a6a6a" stroke-width="1.1"/>
<line x1="287.13" y1="527.90" x2="287.13" y2="532.90" stroke="#6a6a6a" stroke-width="1.1"/>
<line x1="130.50" y1="221.50" x2="135.50" y2="221.50" stroke="#6a6a6a" stroke-width="1.1"/>
<line x1="362.95" y1="527.90" x2="362.95" y2="532.90" stroke="#6a6a6a" stroke-width="1.1"/>
<line x1="130.50" y1="298.10" x2="135.50" y2="298.10" stroke="#6a6a6a" stroke-width="1.1"/>
<line x1="438.77" y1="527.90" x2="438.77" y2="532.90" stroke="#6a6a6a" stroke-width="1.1"/>
<line x1="130.50" y1="374.70" x2="135.50" y2="374.70" stroke="#6a6a6a" stroke-width="1.1"/>
<line x1="514.58" y1="527.90" x2="514.58" y2="532.90" stroke="#6a6a6a" stroke-width="1.1"/>
<line x1="130.50" y1="451.30" x2="135.50" y2="451.30" stroke="#6a6a6a" stroke-width="1.1"/>
<line x1="590.40" y1="527.90" x2="590.40" y2="532.90" stroke="#6a6a6a" stroke-width="1.1"/>
<line x1="130.50" y1="527.90" x2="135.50" y2="527.90" stroke="#6a6a6a" stroke-width="1.1"/>
<text x="211.3" y="561.9" font-size="29.2" text-anchor="middle" fill="#2e2e2e" >-1000</text>
<text x="362.9" y="561.9" font-size="29.2" text-anchor="middle" fill="#2e2e2e" >-500</text>
<text x="514.6" y="561.9" font-size="29.2" text-anchor="middle" fill="#2e2e2e" >0</text>
<text x="125.3" y="79.9" font-size="29.2" text-anchor="end" fill="#2e2e2e" >500</text>
<text x="125.3" y="233.1" font-size="29.2" text-anchor="end" fill="#2e2e2e" >0</text>
<text x="125.3" y="386.3" font-size="29.2" text-anchor="end" fill="#2e2e2e" >-500</text>
<text x="125.3" y="539.5" font-size="29.2" text-anchor="end" fill="#2e2e2e" >-1000</text>
<line x1="823.23" y1="68.30" x2="823.23" y2="527.90" stroke="#b8b8b8" stroke-width="1.1"/>
<line x1="747.40" y1="144.90" x2="1202.40" y2="144.90" stroke="#b8b8b8" stroke-width="1.1"/>
<line x1="899.07" y1="68.30" x2="899.07" y2="527.90" stroke="#b8b8b8" stroke-width="1.1"/>
<line x1="747.40" y1="221.50" x2="1202.40" y2="221.50" stroke="#b8b8b8" stroke-width="1.1"/>
<line x1="974.90" y1="68.30" x2="974.90" y2="527.90" stroke="#b8b8b8" stroke-width="1.1"/>
<line x1="747.40" y1="298.10" x2="1202.40" y2="298.10" stroke="#b8b8b8" stroke-width="1.1"/>
<line x1="1050.73" y1="68.30" x2="1050.73" y2="527.90" stroke="#b8b8b8" stroke-width="1.1"/>
<line x1="747.40" y1="374.70" x2="1202.40" y2="374.70" stroke="#b8b8b8" stroke-width="1.1"/>
<line x1="1126.57" y1="68.30" x2="1126.57" y2="527.90" stroke="#b8b8b8" stroke-width="1.1"/>
<line x1="747.40" y1="451.30" x2="1202.40" y2="451.30" stroke="#b8b8b8" stroke-width="1.1"/>
<g clip-path="url(#ax10)"><g filter="url(#rag)"><g clip-path="url(#cpB)"><g filter="url(#jm5)"><rect x="811.9" y="60" width="360" height="420" fill="url(#bgB)"/><ellipse cx="911.4" cy="155.2" rx="8" ry="6" fill="#5c5c5c" transform="rotate(0 911.4 155.2)"/><ellipse cx="991.3" cy="178.0" rx="12" ry="8" fill="#383838" transform="rotate(40 991.3 178.0)"/><ellipse cx="1002.7" cy="183.7" rx="10" ry="6" fill="#333333" transform="rotate(40 1002.7 183.7)"/><ellipse cx="1010.3" cy="223.7" rx="10" ry="14" fill="#424242" transform="rotate(-30 1010.3 223.7)"/><ellipse cx="1029.3" cy="276.9" rx="12" ry="12" fill="#3d3d3d" transform="rotate(0 1029.3 276.9)"/><ellipse cx="1042.6" cy="193.2" rx="14" ry="30" fill="#949494" transform="rotate(-30 1042.6 193.2)"/><ellipse cx="1109.1" cy="231.3" rx="10" ry="30" fill="#999999" transform="rotate(-30 1109.1 231.3)"/><ellipse cx="1054.3" cy="357.3" rx="8" ry="18" fill="#333333" transform="rotate(20 1054.3 357.3)"/><ellipse cx="1080.2" cy="339.1" rx="9" ry="7" fill="#242424" transform="rotate(0 1080.2 339.1)"/><ellipse cx="1066.5" cy="320.8" rx="10" ry="8" fill="#757575" transform="rotate(0 1066.5 320.8)"/><ellipse cx="1036.0" cy="393.8" rx="22" ry="22" fill="#4c4c4c" transform="rotate(0 1036.0 393.8)"/><ellipse cx="1028.4" cy="384.7" rx="8" ry="6" fill="#404040" transform="rotate(0 1028.4 384.7)"/><ellipse cx="1045.2" cy="399.9" rx="8" ry="10" fill="#404040" transform="rotate(0 1045.2 399.9)"/><ellipse cx="1033.0" cy="354.3" rx="10" ry="8" fill="#5c5c5c" transform="rotate(0 1033.0 354.3)"/><ellipse cx="990.4" cy="282.8" rx="20" ry="14" fill="#5c5c5c" transform="rotate(0 990.4 282.8)"/></g></g></g><g clip-path="url(#cpBo)"><g fill="none" stroke="url(#tgB)" stroke-width="2.2" stroke-linejoin="round" stroke-linecap="round" opacity="1"><polyline points="748.0,285.2 767.4,277.3 796.7,263.5 822.2,254.1 839.2,246.8 875.7,229.2 891.9,222.9 910.2,216.2 941.9,203.0 957.8,196.5 973.8,190.2"/><polyline points="748.0,277.9 763.2,273.0 766.2,276.0"/><polyline points="796.7,263.5 792.4,257.2 795.4,253.5 832.5,238.9 838.0,242.6"/><polyline points="875.7,229.2 872.7,226.2 873.9,222.5 884.3,220.1 891.9,216.2 907.7,210.1 921.1,205.2 946.9,195.0 958.9,190.2 971.0,185.4"/><polyline points="766.2,276.0 780.8,299.8 800.3,326.5 813.7,341.2 821.0,351.6 831.9,366.2 844.1,383.2 858.7,399.6 866.0,408.7 875.7,420.9 883.0,427.6 889.1,435.5 892.8,434.9 904.1,426.1 917.5,417.6 919.3,414.0 910.2,400.6 901.9,389.9 889.7,375.9 872.7,355.2 857.5,341.2 845.3,322.9 824.6,296.1 795.4,260.8"/><polyline points="838.0,242.6 861.1,275.4 879.4,298.6 891.9,312.9 907.7,333.6 916.2,348.3 924.8,359.2 933.3,371.4 938.7,377.5 944.2,375.0 960.0,365.3 971.0,356.8 976.4,349.0 974.6,340.9 958.8,325.1 943.0,309.8 929.6,294.6 916.2,280.0 906.5,267.9 895.2,253.5 874.5,228.0"/><polyline points="748.0,292.5 771.1,326.5 782.1,340.0 791.8,354.0 800.3,364.9 813.7,379.5 827.1,397.2 840.5,413.6 847.8,425.2 858.7,439.8 864.8,448.3 873.3,458.0 872.7,464.1 863.6,470.8 857.5,466.5 849.0,454.4"/><polyline points="748.0,314.4 760.2,332.6 771.1,351.0 779.6,361.9 788.7,373.5 794.2,385.0 797.9,389.9 813.7,409.4 825.9,424.0 834.4,436.1 845.3,451.9 846.5,460.5 850.2,466.5 855.1,464.1"/><polyline points="748.0,331.4 760.2,351.0 771.1,366.2 780.8,379.5 790.6,391.1 800.3,404.5 817.3,427.6 831.9,444.6 841.7,454.4 845.3,454.4 849.0,451.9"/><polyline points="748.0,337.5 771.1,326.5 791.8,314.4 824.6,296.7 861.1,275.4 885.5,259.5 901.9,250.0 921.1,240.5 951.9,227.0 1011.9,201.9 1072.3,177.9"/><polyline points="748.0,356.3 767.4,345.4 800.3,326.5 833.2,308.3 869.7,287.0 891.9,274.0 910.2,266.0 932.0,255.7 956.9,245.0 1019.2,219.2 1082.0,194.3"/><polyline points="748.0,380.8 771.1,366.2 791.8,354.0 812.5,341.7 844.1,321.7 877.0,299.8 891.9,291.0 915.0,280.0 938.1,269.1 961.9,259.0 1025.6,232.8 1089.6,207.3"/><polyline points="748.0,403.3 780.8,379.5 800.3,364.9 822.2,349.6 851.4,330.8 885.5,308.3 891.9,303.8 916.2,291.0 936.9,280.0 966.9,268.0 1031.0,242.4 1095.2,216.9"/><polyline points="748.0,427.6 760.2,417.9 778.4,402.1 790.6,391.1 794.2,391.7 797.9,389.9 810.0,382.0 824.6,372.9 833.2,366.2 846.5,352.2 858.7,338.7 891.9,316.5 912.6,303.1 928.4,295.9 943.0,289.8 971.9,278.0 1036.3,252.1 1100.8,226.4"/><polyline points="887.3,333.8 910.2,317.0 928.4,306.8 940.6,300.1 976.9,286.0 1041.4,260.7 1105.8,235.0"/><polyline points="813.7,404.5 827.1,398.4 844.1,383.8 851.4,374.1 858.7,365.6 873.3,355.2 885.5,346.1 891.9,340.0 906.5,329.0 928.4,316.0 943.0,309.0 981.9,294.0 1046.3,268.8 1110.6,243.2"/><polyline points="825.9,424.0 831.9,419.1 840.5,413.6 858.7,399.6 868.4,391.1 889.7,376.5 904.1,365.3 916.2,354.3 928.4,344.0 943.0,334.9 952.7,330.0 996.9,310.0 1058.3,283.9 1120.4,259.2"/><polyline points="834.4,436.1 847.8,425.2 866.0,409.7 881.8,397.5 896.4,384.5 912.6,367.7 924.8,356.8 934.5,348.2 950.3,338.5 963.7,331.2 1001.9,315.0 1062.8,290.0 1124.0,265.6"/><polyline points="847.8,451.9 851.4,447.1 859.9,439.8 875.7,421.5 883.0,413.0 891.9,403.0 902.9,392.0 916.2,381.1 928.4,368.9 940.6,359.2 955.2,348.2 966.1,341.0 1006.9,320.0 1066.0,293.1 1126.4,269.1"/><polyline points="891.9,418.8 901.6,407.9 910.2,398.1 918.7,388.4 933.3,371.4"/></g></g><g clip-path="url(#cpB)"><g fill="none" stroke="url(#tgBi)" stroke-width="2.2" stroke-linejoin="round" stroke-linecap="round" opacity="0.45"><polyline points="748.0,285.2 767.4,277.3 796.7,263.5 822.2,254.1 839.2,246.8 875.7,229.2 891.9,222.9 910.2,216.2 941.9,203.0 957.8,196.5 973.8,190.2"/><polyline points="748.0,277.9 763.2,273.0 766.2,276.0"/><polyline points="796.7,263.5 792.4,257.2 795.4,253.5 832.5,238.9 838.0,242.6"/><polyline points="875.7,229.2 872.7,226.2 873.9,222.5 884.3,220.1 891.9,216.2 907.7,210.1 921.1,205.2 946.9,195.0 958.9,190.2 971.0,185.4"/><polyline points="766.2,276.0 780.8,299.8 800.3,326.5 813.7,341.2 821.0,351.6 831.9,366.2 844.1,383.2 858.7,399.6 866.0,408.7 875.7,420.9 883.0,427.6 889.1,435.5 892.8,434.9 904.1,426.1 917.5,417.6 919.3,414.0 910.2,400.6 901.9,389.9 889.7,375.9 872.7,355.2 857.5,341.2 845.3,322.9 824.6,296.1 795.4,260.8"/><polyline points="838.0,242.6 861.1,275.4 879.4,298.6 891.9,312.9 907.7,333.6 916.2,348.3 924.8,359.2 933.3,371.4 938.7,377.5 944.2,375.0 960.0,365.3 971.0,356.8 976.4,349.0 974.6,340.9 958.8,325.1 943.0,309.8 929.6,294.6 916.2,280.0 906.5,267.9 895.2,253.5 874.5,228.0"/><polyline points="748.0,292.5 771.1,326.5 782.1,340.0 791.8,354.0 800.3,364.9 813.7,379.5 827.1,397.2 840.5,413.6 847.8,425.2 858.7,439.8 864.8,448.3 873.3,458.0 872.7,464.1 863.6,470.8 857.5,466.5 849.0,454.4"/><polyline points="748.0,314.4 760.2,332.6 771.1,351.0 779.6,361.9 788.7,373.5 794.2,385.0 797.9,389.9 813.7,409.4 825.9,424.0 834.4,436.1 845.3,451.9 846.5,460.5 850.2,466.5 855.1,464.1"/><polyline points="748.0,331.4 760.2,351.0 771.1,366.2 780.8,379.5 790.6,391.1 800.3,404.5 817.3,427.6 831.9,444.6 841.7,454.4 845.3,454.4 849.0,451.9"/><polyline points="748.0,337.5 771.1,326.5 791.8,314.4 824.6,296.7 861.1,275.4 885.5,259.5 901.9,250.0 921.1,240.5 951.9,227.0 1011.9,201.9 1072.3,177.9"/><polyline points="748.0,356.3 767.4,345.4 800.3,326.5 833.2,308.3 869.7,287.0 891.9,274.0 910.2,266.0 932.0,255.7 956.9,245.0 1019.2,219.2 1082.0,194.3"/><polyline points="748.0,380.8 771.1,366.2 791.8,354.0 812.5,341.7 844.1,321.7 877.0,299.8 891.9,291.0 915.0,280.0 938.1,269.1 961.9,259.0 1025.6,232.8 1089.6,207.3"/><polyline points="748.0,403.3 780.8,379.5 800.3,364.9 822.2,349.6 851.4,330.8 885.5,308.3 891.9,303.8 916.2,291.0 936.9,280.0 966.9,268.0 1031.0,242.4 1095.2,216.9"/><polyline points="748.0,427.6 760.2,417.9 778.4,402.1 790.6,391.1 794.2,391.7 797.9,389.9 810.0,382.0 824.6,372.9 833.2,366.2 846.5,352.2 858.7,338.7 891.9,316.5 912.6,303.1 928.4,295.9 943.0,289.8 971.9,278.0 1036.3,252.1 1100.8,226.4"/><polyline points="887.3,333.8 910.2,317.0 928.4,306.8 940.6,300.1 976.9,286.0 1041.4,260.7 1105.8,235.0"/><polyline points="813.7,404.5 827.1,398.4 844.1,383.8 851.4,374.1 858.7,365.6 873.3,355.2 885.5,346.1 891.9,340.0 906.5,329.0 928.4,316.0 943.0,309.0 981.9,294.0 1046.3,268.8 1110.6,243.2"/><polyline points="825.9,424.0 831.9,419.1 840.5,413.6 858.7,399.6 868.4,391.1 889.7,376.5 904.1,365.3 916.2,354.3 928.4,344.0 943.0,334.9 952.7,330.0 996.9,310.0 1058.3,283.9 1120.4,259.2"/><polyline points="834.4,436.1 847.8,425.2 866.0,409.7 881.8,397.5 896.4,384.5 912.6,367.7 924.8,356.8 934.5,348.2 950.3,338.5 963.7,331.2 1001.9,315.0 1062.8,290.0 1124.0,265.6"/><polyline points="847.8,451.9 851.4,447.1 859.9,439.8 875.7,421.5 883.0,413.0 891.9,403.0 902.9,392.0 916.2,381.1 928.4,368.9 940.6,359.2 955.2,348.2 966.1,341.0 1006.9,320.0 1066.0,293.1 1126.4,269.1"/><polyline points="891.9,418.8 901.6,407.9 910.2,398.1 918.7,388.4 933.3,371.4"/></g></g><g clip-path="url(#cpB)" fill="none" stroke="url(#tgBi)" stroke-width="1.8" opacity="0.3"><line x1="823.1" y1="37.3" x2="959.1" y2="267.8"/><line x1="845.6" y1="30.2" x2="980.4" y2="258.7"/><line x1="868.9" y1="28.3" x2="984.8" y2="224.8"/><line x1="874.5" y1="-3.4" x2="1022.5" y2="247.4"/><line x1="897.6" y1="-5.6" x2="1025.3" y2="210.8"/><line x1="927.2" y1="11.1" x2="1045.9" y2="212.3"/><line x1="936.9" y1="-2.0" x2="1059.0" y2="204.9"/><line x1="944.1" y1="-15.4" x2="1061.9" y2="184.3"/><line x1="953.4" y1="-21.1" x2="1089.6" y2="209.6"/><line x1="917.0" y1="205.0" x2="1067.6" y2="145.1"/><line x1="927.3" y1="225.0" x2="1094.1" y2="158.7"/><line x1="937.6" y1="245.0" x2="1099.2" y2="180.7"/><line x1="947.9" y1="265.0" x2="1064.3" y2="218.7"/><line x1="958.2" y1="285.0" x2="1126.2" y2="218.2"/><line x1="968.5" y1="305.0" x2="1124.0" y2="243.1"/><line x1="978.8" y1="325.0" x2="1112.8" y2="271.7"/></g><g fill="none" stroke-width="1.9" stroke-linejoin="round" stroke-linecap="round"><polyline points="1019.8,172.6 1014.7,162.4 1015.3,158.4 1019.8,157.8 1025.5,157.2 1044.9,144.7 1048.3,146.4 1050.6,152.1 1056.3,163.5 1066.6,173.8 1068.9,178.3 1081.9,200.0" stroke="#8cff6b"/><polyline points="1019.8,172.6 1017.0,167.5 1017.5,163.5 1034.7,159.0 1039.2,161.7 1049.5,180.6 1066.9,210.0" stroke="#94ff63"/><polyline points="1059.8,144.7 1065.5,149.8 1068.9,161.2 1078.0,178.3 1080.3,184.0 1078.0,186.3 1068.9,180.6 1056.3,176.1" stroke="#ceff29"/><polyline points="1071.2,145.8 1074.6,152.1 1078.0,162.4 1083.7,171.5 1089.4,182.9 1092.8,192.0 1107.7,218.3 1124.8,249.1 1137.3,267.9 1133.9,271.9" stroke="#ff7b00"/><polyline points="1133.9,271.9 1125.9,274.2 1119.1,276.4 1101.9,284.0 1081.9,297.0" stroke="#a5ff52"/><polyline points="1073.4,146.4 1079.1,164.7 1091.7,189.8 1123.6,247.9 1136.2,267.3" stroke="#ffaa00"/><polyline points="1130.9,262.0 1119.9,270.0 1107.9,275.0 1089.9,290.0 1073.9,305.0" stroke="#8cff6b"/><polyline points="1126.9,258.0 1111.9,268.0 1096.9,280.0" stroke="#a5ff52"/></g><g filter="url(#rag)"><g clip-path="url(#cpB)"><polygon points="908.6,159.0 917.1,157.1 926.6,157.1 936.1,160.0 939.9,166.6 942.8,174.2 940.9,180.9 936.1,184.7 930.4,180.9 926.6,172.3 922.8,170.4 920.0,176.1 917.1,182.8 912.4,176.1 910.5,166.6" fill="#141414" /><polygon points="946.6,161.9 952.3,162.8 956.1,166.6 959.9,165.7 958.9,169.5 954.2,168.5 950.4,169.5" fill="#141414" /><polygon points="995.1,172.7 1000.8,173.3 1000.8,175.6 996.0,175.4" fill="#141414" /><polygon points="1035.9,181.8 1040.7,180.9 1042.6,185.6 1039.7,188.5 1035.9,185.6" fill="#141414" /><polygon points="1058.7,185.6 1069.2,185.6 1071.1,190.4 1065.4,194.2 1061.6,192.3" fill="#141414" /><polygon points="1049.2,195.1 1054.0,191.3 1060.6,193.2 1065.4,200.8 1063.5,207.5 1057.8,209.4 1052.1,204.6" fill="#141414" /><polygon points="1061.6,215.1 1067.3,210.3 1074.0,210.3 1076.8,217.9 1074.0,224.6 1067.3,227.5 1063.5,221.7" fill="#141414" /><polygon points="1078.7,192.3 1088.2,191.3 1095.8,195.1 1098.7,200.8 1093.9,203.7 1086.3,200.8 1080.6,197.0" fill="#141414" /><polygon points="1094.9,205.6 1099.6,204.6 1104.4,211.3 1107.2,217.0 1101.5,217.0 1097.7,212.2" fill="#141414" /><polygon points="1070.3,264.6 1075.6,260.8 1083.2,261.5 1087.0,267.6 1084.7,276.7 1080.2,282.8 1075.6,285.1 1073.3,276.7" fill="#141414" /><polygon points="1049.0,276.7 1053.5,273.7 1060.4,275.2 1066.5,282.8 1070.3,290.4 1067.2,302.6 1063.4,307.1 1058.9,313.2 1061.9,319.3 1057.3,325.4 1051.3,328.4 1054.3,336.0 1051.3,342.9 1033.0,343.3 1030.0,346.7 1029.2,354.3 1023.9,358.9 1017.8,360.4 1016.3,366.5 1020.1,374.1 1021.6,381.7 1018.6,383.2 1013.2,372.5 1009.4,357.3 1007.1,345.2 1008.7,328.4 1012.5,317.8 1018.6,311.0 1026.9,314.0 1034.5,310.2 1036.0,304.1 1034.5,292.7 1038.3,287.4 1045.2,291.9 1048.2,287.4" fill="#141414" /><polygon points="1080.2,313.2 1084.0,307.9 1090.0,307.9 1093.1,314.0 1089.3,320.8 1084.0,322.4" fill="#141414" /><polygon points="1061.1,341.4 1071.0,340.6 1075.6,345.2 1077.9,347.5 1071.0,360.4 1063.4,372.5 1061.9,366.5 1058.1,364.9 1061.1,354.3" fill="#141414" /><polygon points="1055.1,380.2 1058.9,375.6 1062.7,377.9 1058.9,386.2" fill="#141414" /><polygon points="1122.4,253.1 1125.3,252.2 1126.2,256.3 1123.4,257.3" fill="#141414" /></g></g></g>
<rect x="747.40" y="68.30" width="455.00" height="459.60" fill="none" stroke="#6a6a6a" stroke-width="1.1"/>
<line x1="747.40" y1="527.90" x2="747.40" y2="532.90" stroke="#6a6a6a" stroke-width="1.1"/>
<line x1="742.40" y1="68.30" x2="747.40" y2="68.30" stroke="#6a6a6a" stroke-width="1.1"/>
<line x1="823.23" y1="527.90" x2="823.23" y2="532.90" stroke="#6a6a6a" stroke-width="1.1"/>
<line x1="742.40" y1="144.90" x2="747.40" y2="144.90" stroke="#6a6a6a" stroke-width="1.1"/>
<line x1="899.07" y1="527.90" x2="899.07" y2="532.90" stroke="#6a6a6a" stroke-width="1.1"/>
<line x1="742.40" y1="221.50" x2="747.40" y2="221.50" stroke="#6a6a6a" stroke-width="1.1"/>
<line x1="974.90" y1="527.90" x2="974.90" y2="532.90" stroke="#6a6a6a" stroke-width="1.1"/>
<line x1="742.40" y1="298.10" x2="747.40" y2="298.10" stroke="#6a6a6a" stroke-width="1.1"/>
<line x1="1050.73" y1="527.90" x2="1050.73" y2="532.90" stroke="#6a6a6a" stroke-width="1.1"/>
<line x1="742.40" y1="374.70" x2="747.40" y2="374.70" stroke="#6a6a6a" stroke-width="1.1"/>
<line x1="1126.57" y1="527.90" x2="1126.57" y2="532.90" stroke="#6a6a6a" stroke-width="1.1"/>
<line x1="742.40" y1="451.30" x2="747.40" y2="451.30" stroke="#6a6a6a" stroke-width="1.1"/>
<line x1="1202.40" y1="527.90" x2="1202.40" y2="532.90" stroke="#6a6a6a" stroke-width="1.1"/>
<line x1="742.40" y1="527.90" x2="747.40" y2="527.90" stroke="#6a6a6a" stroke-width="1.1"/>
<text x="823.2" y="561.9" font-size="29.2" text-anchor="middle" fill="#2e2e2e" >-1000</text>
<text x="974.9" y="561.9" font-size="29.2" text-anchor="middle" fill="#2e2e2e" >-500</text>
<text x="1126.6" y="561.9" font-size="29.2" text-anchor="middle" fill="#2e2e2e" >0</text>
<line x1="211.32" y1="695.60" x2="211.32" y2="1155.20" stroke="#b8b8b8" stroke-width="1.1"/>
<line x1="135.50" y1="772.20" x2="590.40" y2="772.20" stroke="#b8b8b8" stroke-width="1.1"/>
<line x1="287.13" y1="695.60" x2="287.13" y2="1155.20" stroke="#b8b8b8" stroke-width="1.1"/>
<line x1="135.50" y1="848.80" x2="590.40" y2="848.80" stroke="#b8b8b8" stroke-width="1.1"/>
<line x1="362.95" y1="695.60" x2="362.95" y2="1155.20" stroke="#b8b8b8" stroke-width="1.1"/>
<line x1="135.50" y1="925.40" x2="590.40" y2="925.40" stroke="#b8b8b8" stroke-width="1.1"/>
<line x1="438.77" y1="695.60" x2="438.77" y2="1155.20" stroke="#b8b8b8" stroke-width="1.1"/>
<line x1="135.50" y1="1002.00" x2="590.40" y2="1002.00" stroke="#b8b8b8" stroke-width="1.1"/>
<line x1="514.58" y1="695.60" x2="514.58" y2="1155.20" stroke="#b8b8b8" stroke-width="1.1"/>
<line x1="135.50" y1="1078.60" x2="590.40" y2="1078.60" stroke="#b8b8b8" stroke-width="1.1"/>
<g clip-path="url(#ax01)"><g filter="url(#rag)"><g clip-path="url(#cpC)"><g filter="url(#jm3)"><rect x="200" y="687.3" width="360" height="420" fill="#6b6b6b"/><ellipse cx="366.4" cy="863.2" rx="40" ry="26" fill="#5c5c5c" transform="rotate(45 366.4 863.2)"/><ellipse cx="357.0" cy="842.0" rx="10" ry="14" fill="#383838" transform="rotate(-30 357.0 842.0)"/><ellipse cx="347.6" cy="865.6" rx="12" ry="10" fill="#3d3d3d" transform="rotate(0 347.6 865.6)"/><ellipse cx="375.9" cy="860.9" rx="10" ry="14" fill="#474747" transform="rotate(-30 375.9 860.9)"/><ellipse cx="373.5" cy="910.4" rx="12" ry="8" fill="#3d3d3d" transform="rotate(20 373.5 910.4)"/><ellipse cx="444.2" cy="856.2" rx="8" ry="10" fill="#3d3d3d" transform="rotate(0 444.2 856.2)"/><ellipse cx="397.1" cy="889.2" rx="8" ry="10" fill="#9e9e9e" transform="rotate(0 397.1 889.2)"/><ellipse cx="425.4" cy="827.9" rx="10" ry="16" fill="#6b6b6b" transform="rotate(-20 425.4 827.9)"/><ellipse cx="470.2" cy="827.9" rx="14" ry="8" fill="#6b6b6b" transform="rotate(0 470.2 827.9)"/><ellipse cx="326.4" cy="875.0" rx="14" ry="20" fill="#737373" transform="rotate(-30 326.4 875.0)"/><ellipse cx="295.7" cy="818.4" rx="8" ry="14" fill="#8c8c8c" transform="rotate(-20 295.7 818.4)"/><ellipse cx="366.4" cy="969.3" rx="10" ry="30" fill="#bfbfbf" transform="rotate(-25 366.4 969.3)"/><ellipse cx="425.4" cy="860.9" rx="10" ry="14" fill="#cccccc" transform="rotate(-35 425.4 860.9)"/><ellipse cx="451.3" cy="872.7" rx="8" ry="7" fill="#ededed" transform="rotate(0 451.3 872.7)"/><ellipse cx="474.9" cy="856.2" rx="14" ry="20" fill="#d9d9d9" transform="rotate(-30 474.9 856.2)"/><ellipse cx="357.0" cy="988.2" rx="10" ry="24" fill="#cccccc" transform="rotate(-25 357.0 988.2)"/><ellipse cx="342.9" cy="922.2" rx="8" ry="20" fill="#9e9e9e" transform="rotate(-25 342.9 922.2)"/><ellipse cx="390.0" cy="945.7" rx="10" ry="16" fill="#999999" transform="rotate(-20 390.0 945.7)"/><ellipse cx="460.7" cy="820.8" rx="12" ry="10" fill="#5c5c5c" transform="rotate(0 460.7 820.8)"/><ellipse cx="479.6" cy="842.0" rx="8" ry="8" fill="#999999" transform="rotate(0 479.6 842.0)"/><ellipse cx="375.9" cy="809.0" rx="20" ry="12" fill="#5c5c5c" transform="rotate(30 375.9 809.0)"/><path d="M235.6,727.2 L244.8,726.4 L258.5,732.5 L277.5,737.1 L278.2,740.1 L277.5,753.0 L285.8,759.9 L285.8,775.1 L277.5,772.1 L278.2,788.8 L285.8,802.5 L291.9,814.6 L294.2,822.2 L290.4,828.3 L282.8,822.2 L235.6,731.0Z M251.6,731.7 L255.4,731.7 L259.2,740.9 L256.2,742.4Z M265.3,766.7 L269.1,764.1 L276.0,766.3 L277.5,770.2 L271.4,770.8Z" fill="#fff" fill-rule="evenodd" stroke="#fff" stroke-width="10" stroke-linejoin="round"/><path d="M285.8,759.9 L290.4,764.4 L298.0,766.0 L304.8,762.2 L296.5,758.4 L294.2,747.7 L296.5,745.4 L304.1,745.4 L320.1,752.6 L322.0,759.1 L320.8,767.5 L318.1,772.4 L325.4,778.1 L329.9,785.7 L334.8,796.4 L333.3,805.2 L328.4,804.3 L322.3,799.4 L317.0,800.2 L317.3,807.3 L311.7,810.4 L307.1,805.8 L305.6,799.4 L298.0,799.4 L291.9,794.9 L285.8,784.2 L285.8,775.1Z M298.0,781.9 L305.6,779.4 L311.7,785.7 L316.3,793.3 L310.2,797.5 L304.1,793.3 L299.5,786.5Z" fill="#fff" fill-rule="evenodd" stroke="#fff" stroke-width="10" stroke-linejoin="round"/><path d="M310.2,820.7 L316.3,822.2 L320.8,829.8 L321.6,837.5 L318.5,843.5 L322.3,849.6 L324.6,854.2 L320.1,861.0 L311.7,864.1 L307.9,863.3 L299.5,848.1 L302.6,842.0 L308.7,840.5 L310.9,832.9 L308.7,826.8Z" fill="#fff" fill-rule="evenodd" stroke="#fff" stroke-width="10" stroke-linejoin="round"/><path d="M339.8,758.7 L355.8,762.2 L377.1,769.8 L392.3,773.6 L393.8,775.9 L399.9,793.3 L403.7,814.6 L409.0,829.8 L407.5,839.0 L409.8,849.6 L401.4,851.1 L396.9,839.0 L390.0,829.8 L388.5,814.6 L383.2,808.6 L381.7,802.5 L377.1,797.1 L371.0,794.9 L361.9,797.1 L355.8,794.1 L345.2,794.1 L342.9,790.3 L348.2,784.2 L349.7,778.1 L345.2,773.6 L339.8,772.8 L337.5,769.0 L339.1,762.9Z" fill="#fff" fill-rule="evenodd" stroke="#fff" stroke-width="10" stroke-linejoin="round"/><path d="M406.6,780.4 L411.4,779.8 L415.7,782.9 L421.2,782.2 L424.8,784.7 L430.3,785.9 L424.8,788.3 L425.4,792.6 L421.2,797.5 L416.9,793.8 L412.0,792.6 L408.4,786.5Z" fill="#fff" fill-rule="evenodd" stroke="#fff" stroke-width="10" stroke-linejoin="round"/><path d="M428.5,812.1 L431.5,809.6 L440.0,809.6 L446.1,814.5 L451.0,818.1 L452.2,825.4 L451.0,830.3 L452.8,836.4 L458.3,841.3 L465.6,841.3 L469.2,844.9 L472.9,844.3 L474.7,849.8 L470.4,858.3 L466.8,858.3 L460.7,853.4 L455.8,849.8 L452.2,843.7 L446.1,842.5 L442.5,835.2 L443.7,830.3 L440.6,827.9 L435.2,826.7 L432.1,820.6Z" fill="#fff" fill-rule="evenodd" stroke="#fff" stroke-width="10" stroke-linejoin="round"/><path d="M461.3,796.2 L466.8,798.1 L469.8,803.5 L472.3,812.1 L468.0,815.7 L464.4,814.5 L460.7,810.8 L457.1,810.2 L459.5,804.8Z" fill="#fff" fill-rule="evenodd" stroke="#fff" stroke-width="10" stroke-linejoin="round"/><path d="M484.4,851.0 L488.7,844.3 L493.6,843.7 L497.8,848.6 L499.6,855.9 L495.4,860.7 L491.1,861.3 L487.5,858.3Z" fill="#fff" fill-rule="evenodd" stroke="#fff" stroke-width="10" stroke-linejoin="round"/><path d="M471.7,877.8 L475.3,873.5 L482.0,872.9 L485.6,877.8 L489.9,883.8 L494.2,888.7 L493.6,894.8 L488.7,896.0 L482.6,891.1 L477.7,888.7 L474.1,883.8Z" fill="#fff" fill-rule="evenodd" stroke="#fff" stroke-width="10" stroke-linejoin="round"/><path d="M431.1,891.7 L437.2,888.7 L445.6,891.7 L451.7,887.2 L462.3,886.4 L466.9,891.7 L474.5,891.0 L479.8,894.8 L476.0,900.1 L469.9,905.4 L466.9,912.3 L459.3,910.0 L456.2,907.0 L454.0,910.0 L460.8,915.3 L466.9,918.4 L463.8,926.0 L459.3,930.5 L451.7,933.6 L447.1,939.7 L454.7,944.2 L453.2,951.8 L445.6,959.4 L439.5,961.0 L444.1,968.6 L442.5,976.2 L447.1,986.8 L442.5,995.9 L436.5,1003.5 L421.3,1029.4 L412.1,1046.1 L395.4,1068.9 L387.8,1059.8 L378.7,1038.5 L372.6,1023.3 L374.1,1014.2 L383.2,1012.7 L378.7,1003.5 L379.4,980.7 L375.6,962.5 L380.2,964.0 L386.3,968.6 L392.4,973.1 L400.0,967.0 L401.5,959.4 L395.4,945.7 L393.1,936.6 L397.7,931.3 L403.0,938.1 L407.6,941.2 L410.6,936.6 L410.6,924.4 L416.7,918.4 L422.8,915.3 L424.3,903.2 L428.9,898.6Z M415.2,959.4 L419.7,957.1 L425.8,962.5 L429.6,970.1 L425.1,976.2 L419.7,973.1 L416.7,967.0Z M393.9,982.2 L396.9,980.7 L403.8,997.5 L401.5,999.7 L393.9,986.8Z" fill="#fff" fill-rule="evenodd" stroke="#fff" stroke-width="10" stroke-linejoin="round"/><path d="M365.7,997.5 L369.5,995.2 L371.8,1000.5 L374.1,1003.5 L369.5,1006.6 L366.5,1002.0Z" fill="#fff" fill-rule="evenodd" stroke="#fff" stroke-width="10" stroke-linejoin="round"/><path d="M447.1,935.1 L456.2,930.5 L462.3,938.1 L466.9,947.3 L470.7,953.3 L463.8,962.5 L457.8,971.6 L451.7,980.7 L447.1,986.8 L442.5,995.9 L439.5,961.0Z" fill="#fff" fill-rule="evenodd" stroke="#fff" stroke-width="10" stroke-linejoin="round"/></g><path d="M235.6,727.2 L244.8,726.4 L258.5,732.5 L277.5,737.1 L278.2,740.1 L277.5,753.0 L285.8,759.9 L285.8,775.1 L277.5,772.1 L278.2,788.8 L285.8,802.5 L291.9,814.6 L294.2,822.2 L290.4,828.3 L282.8,822.2 L235.6,731.0Z M251.6,731.7 L255.4,731.7 L259.2,740.9 L256.2,742.4Z M265.3,766.7 L269.1,764.1 L276.0,766.3 L277.5,770.2 L271.4,770.8Z" fill="#800000" fill-rule="evenodd" stroke="#800000" stroke-width="2.6" stroke-linejoin="round"/><path d="M285.8,759.9 L290.4,764.4 L298.0,766.0 L304.8,762.2 L296.5,758.4 L294.2,747.7 L296.5,745.4 L304.1,745.4 L320.1,752.6 L322.0,759.1 L320.8,767.5 L318.1,772.4 L325.4,778.1 L329.9,785.7 L334.8,796.4 L333.3,805.2 L328.4,804.3 L322.3,799.4 L317.0,800.2 L317.3,807.3 L311.7,810.4 L307.1,805.8 L305.6,799.4 L298.0,799.4 L291.9,794.9 L285.8,784.2 L285.8,775.1Z M298.0,781.9 L305.6,779.4 L311.7,785.7 L316.3,793.3 L310.2,797.5 L304.1,793.3 L299.5,786.5Z" fill="#800000" fill-rule="evenodd" stroke="#800000" stroke-width="2.6" stroke-linejoin="round"/><path d="M310.2,820.7 L316.3,822.2 L320.8,829.8 L321.6,837.5 L318.5,843.5 L322.3,849.6 L324.6,854.2 L320.1,861.0 L311.7,864.1 L307.9,863.3 L299.5,848.1 L302.6,842.0 L308.7,840.5 L310.9,832.9 L308.7,826.8Z" fill="#800000" fill-rule="evenodd" stroke="#800000" stroke-width="2.6" stroke-linejoin="round"/><path d="M339.8,758.7 L355.8,762.2 L377.1,769.8 L392.3,773.6 L393.8,775.9 L399.9,793.3 L403.7,814.6 L409.0,829.8 L407.5,839.0 L409.8,849.6 L401.4,851.1 L396.9,839.0 L390.0,829.8 L388.5,814.6 L383.2,808.6 L381.7,802.5 L377.1,797.1 L371.0,794.9 L361.9,797.1 L355.8,794.1 L345.2,794.1 L342.9,790.3 L348.2,784.2 L349.7,778.1 L345.2,773.6 L339.8,772.8 L337.5,769.0 L339.1,762.9Z" fill="#800000" fill-rule="evenodd" stroke="#800000" stroke-width="2.6" stroke-linejoin="round"/><path d="M406.6,780.4 L411.4,779.8 L415.7,782.9 L421.2,782.2 L424.8,784.7 L430.3,785.9 L424.8,788.3 L425.4,792.6 L421.2,797.5 L416.9,793.8 L412.0,792.6 L408.4,786.5Z" fill="#800000" fill-rule="evenodd" stroke="#800000" stroke-width="2.6" stroke-linejoin="round"/><path d="M428.5,812.1 L431.5,809.6 L440.0,809.6 L446.1,814.5 L451.0,818.1 L452.2,825.4 L451.0,830.3 L452.8,836.4 L458.3,841.3 L465.6,841.3 L469.2,844.9 L472.9,844.3 L474.7,849.8 L470.4,858.3 L466.8,858.3 L460.7,853.4 L455.8,849.8 L452.2,843.7 L446.1,842.5 L442.5,835.2 L443.7,830.3 L440.6,827.9 L435.2,826.7 L432.1,820.6Z" fill="#800000" fill-rule="evenodd" stroke="#800000" stroke-width="2.6" stroke-linejoin="round"/><path d="M461.3,796.2 L466.8,798.1 L469.8,803.5 L472.3,812.1 L468.0,815.7 L464.4,814.5 L460.7,810.8 L457.1,810.2 L459.5,804.8Z" fill="#800000" fill-rule="evenodd" stroke="#800000" stroke-width="2.6" stroke-linejoin="round"/><path d="M484.4,851.0 L488.7,844.3 L493.6,843.7 L497.8,848.6 L499.6,855.9 L495.4,860.7 L491.1,861.3 L487.5,858.3Z" fill="#800000" fill-rule="evenodd" stroke="#800000" stroke-width="2.6" stroke-linejoin="round"/><path d="M471.7,877.8 L475.3,873.5 L482.0,872.9 L485.6,877.8 L489.9,883.8 L494.2,888.7 L493.6,894.8 L488.7,896.0 L482.6,891.1 L477.7,888.7 L474.1,883.8Z" fill="#800000" fill-rule="evenodd" stroke="#800000" stroke-width="2.6" stroke-linejoin="round"/><path d="M431.1,891.7 L437.2,888.7 L445.6,891.7 L451.7,887.2 L462.3,886.4 L466.9,891.7 L474.5,891.0 L479.8,894.8 L476.0,900.1 L469.9,905.4 L466.9,912.3 L459.3,910.0 L456.2,907.0 L454.0,910.0 L460.8,915.3 L466.9,918.4 L463.8,926.0 L459.3,930.5 L451.7,933.6 L447.1,939.7 L454.7,944.2 L453.2,951.8 L445.6,959.4 L439.5,961.0 L444.1,968.6 L442.5,976.2 L447.1,986.8 L442.5,995.9 L436.5,1003.5 L421.3,1029.4 L412.1,1046.1 L395.4,1068.9 L387.8,1059.8 L378.7,1038.5 L372.6,1023.3 L374.1,1014.2 L383.2,1012.7 L378.7,1003.5 L379.4,980.7 L375.6,962.5 L380.2,964.0 L386.3,968.6 L392.4,973.1 L400.0,967.0 L401.5,959.4 L395.4,945.7 L393.1,936.6 L397.7,931.3 L403.0,938.1 L407.6,941.2 L410.6,936.6 L410.6,924.4 L416.7,918.4 L422.8,915.3 L424.3,903.2 L428.9,898.6Z M415.2,959.4 L419.7,957.1 L425.8,962.5 L429.6,970.1 L425.1,976.2 L419.7,973.1 L416.7,967.0Z M393.9,982.2 L396.9,980.7 L403.8,997.5 L401.5,999.7 L393.9,986.8Z" fill="#800000" fill-rule="evenodd" stroke="#800000" stroke-width="2.6" stroke-linejoin="round"/><path d="M365.7,997.5 L369.5,995.2 L371.8,1000.5 L374.1,1003.5 L369.5,1006.6 L366.5,1002.0Z" fill="#800000" fill-rule="evenodd" stroke="#800000" stroke-width="2.6" stroke-linejoin="round"/><path d="M447.1,935.1 L456.2,930.5 L462.3,938.1 L466.9,947.3 L470.7,953.3 L463.8,962.5 L457.8,971.6 L451.7,980.7 L447.1,986.8 L442.5,995.9 L439.5,961.0Z" fill="#800000" fill-rule="evenodd" stroke="#800000" stroke-width="2.6" stroke-linejoin="round"/><polygon points="480.0,891.2 487.7,896.1 497.4,897.0 505.1,899.0 500.3,908.6 487.7,923.1 481.9,928.9 474.2,923.1 467.4,915.4 474.2,903.8" fill="#fff" /><circle cx="450.2" cy="936.6" r="1.9" fill="#fff"/><circle cx="458.5" cy="938.1" r="1.9" fill="#fff"/><circle cx="460.8" cy="942.7" r="1.9" fill="#fff"/><circle cx="462.3" cy="948.8" r="1.9" fill="#fff"/><circle cx="469.9" cy="953.3" r="1.9" fill="#fff"/><circle cx="462.3" cy="959.4" r="1.9" fill="#fff"/><circle cx="454.7" cy="960.2" r="1.9" fill="#fff"/><circle cx="447.1" cy="965.5" r="1.9" fill="#fff"/><circle cx="451.7" cy="968.6" r="1.9" fill="#fff"/><circle cx="447.9" cy="974.6" r="1.9" fill="#fff"/><circle cx="445.6" cy="982.2" r="1.9" fill="#fff"/><circle cx="453.5" cy="948.8" r="1.9" fill="#fff"/><circle cx="463.8" cy="954.1" r="1.9" fill="#fff"/></g></g></g>
<rect x="135.50" y="695.60" width="454.90" height="459.60" fill="none" stroke="#6a6a6a" stroke-width="1.1"/>
<line x1="135.50" y1="1155.20" x2="135.50" y2="1160.20" stroke="#6a6a6a" stroke-width="1.1"/>
<line x1="130.50" y1="695.60" x2="135.50" y2="695.60" stroke="#6a6a6a" stroke-width="1.1"/>
<line x1="211.32" y1="1155.20" x2="211.32" y2="1160.20" stroke="#6a6a6a" stroke-width="1.1"/>
<line x1="130.50" y1="772.20" x2="135.50" y2="772.20" stroke="#6a6a6a" stroke-width="1.1"/>
<line x1="287.13" y1="1155.20" x2="287.13" y2="1160.20" stroke="#6a6a6a" stroke-width="1.1"/>
<line x1="130.50" y1="848.80" x2="135.50" y2="848.80" stroke="#6a6a6a" stroke-width="1.1"/>
<line x1="362.95" y1="1155.20" x2="362.95" y2="1160.20" stroke="#6a6a6a" stroke-width="1.1"/>
<line x1="130.50" y1="925.40" x2="135.50" y2="925.40" stroke="#6a6a6a" stroke-width="1.1"/>
<line x1="438.77" y1="1155.20" x2="438.77" y2="1160.20" stroke="#6a6a6a" stroke-width="1.1"/>
<line x1="130.50" y1="1002.00" x2="135.50" y2="1002.00" stroke="#6a6a6a" stroke-width="1.1"/>
<line x1="514.58" y1="1155.20" x2="514.58" y2="1160.20" stroke="#6a6a6a" stroke-width="1.1"/>
<line x1="130.50" y1="1078.60" x2="135.50" y2="1078.60" stroke="#6a6a6a" stroke-width="1.1"/>
<line x1="590.40" y1="1155.20" x2="590.40" y2="1160.20" stroke="#6a6a6a" stroke-width="1.1"/>
<line x1="130.50" y1="1155.20" x2="135.50" y2="1155.20" stroke="#6a6a6a" stroke-width="1.1"/>
<text x="211.3" y="1189.2" font-size="29.2" text-anchor="middle" fill="#2e2e2e" >-1000</text>
<text x="362.9" y="1189.2" font-size="29.2" text-anchor="middle" fill="#2e2e2e" >-500</text>
<text x="514.6" y="1189.2" font-size="29.2" text-anchor="middle" fill="#2e2e2e" >0</text>
<text x="125.3" y="707.2" font-size="29.2" text-anchor="end" fill="#2e2e2e" >500</text>
<text x="125.3" y="860.4" font-size="29.2" text-anchor="end" fill="#2e2e2e" >0</text>
<text x="125.3" y="1013.6" font-size="29.2" text-anchor="end" fill="#2e2e2e" >-500</text>
<text x="125.3" y="1166.8" font-size="29.2" text-anchor="end" fill="#2e2e2e" >-1000</text>
<line x1="823.23" y1="695.60" x2="823.23" y2="1155.20" stroke="#b8b8b8" stroke-width="1.1"/>
<line x1="747.40" y1="772.20" x2="1202.40" y2="772.20" stroke="#b8b8b8" stroke-width="1.1"/>
<line x1="899.07" y1="695.60" x2="899.07" y2="1155.20" stroke="#b8b8b8" stroke-width="1.1"/>
<line x1="747.40" y1="848.80" x2="1202.40" y2="848.80" stroke="#b8b8b8" stroke-width="1.1"/>
<line x1="974.90" y1="695.60" x2="974.90" y2="1155.20" stroke="#b8b8b8" stroke-width="1.1"/>
<line x1="747.40" y1="925.40" x2="1202.40" y2="925.40" stroke="#b8b8b8" stroke-width="1.1"/>
<line x1="1050.73" y1="695.60" x2="1050.73" y2="1155.20" stroke="#b8b8b8" stroke-width="1.1"/>
<line x1="747.40" y1="1002.00" x2="1202.40" y2="1002.00" stroke="#b8b8b8" stroke-width="1.1"/>
<line x1="1126.57" y1="695.60" x2="1126.57" y2="1155.20" stroke="#b8b8b8" stroke-width="1.1"/>
<line x1="747.40" y1="1078.60" x2="1202.40" y2="1078.60" stroke="#b8b8b8" stroke-width="1.1"/>
<g clip-path="url(#ax11)"><g filter="url(#rag)"><g clip-path="url(#cpD)"><g filter="url(#jm3)"><rect x="811.9" y="687.3" width="360" height="420" fill="#666666"/><ellipse cx="938.7" cy="823.2" rx="9" ry="6" fill="#4c4c4c" transform="rotate(30 938.7 823.2)"/><ellipse cx="986.3" cy="834.6" rx="12" ry="7" fill="#4c4c4c" transform="rotate(30 986.3 834.6)"/><ellipse cx="978.7" cy="863.2" rx="7" ry="6" fill="#4c4c4c" transform="rotate(0 978.7 863.2)"/><ellipse cx="1007.2" cy="899.3" rx="10" ry="14" fill="#4c4c4c" transform="rotate(-20 1007.2 899.3)"/><ellipse cx="1056.6" cy="870.8" rx="6" ry="9" fill="#474747" transform="rotate(0 1056.6 870.8)"/><ellipse cx="1109.8" cy="891.7" rx="6" ry="12" fill="#404040" transform="rotate(-25 1109.8 891.7)"/><ellipse cx="1001.5" cy="937.3" rx="8" ry="8" fill="#5c5c5c" transform="rotate(0 1001.5 937.3)"/><ellipse cx="953.9" cy="843.2" rx="8" ry="8" fill="#e6e6e6" transform="rotate(0 953.9 843.2)"/><ellipse cx="952.0" cy="828.9" rx="8" ry="9" fill="#a3a3a3" transform="rotate(0 952.0 828.9)"/><ellipse cx="1016.7" cy="851.7" rx="9" ry="10" fill="#f2f2f2" transform="rotate(-20 1016.7 851.7)"/><ellipse cx="1035.7" cy="867.0" rx="8" ry="17" fill="#c7c7c7" transform="rotate(-35 1035.7 867.0)"/><ellipse cx="984.4" cy="893.6" rx="9" ry="9" fill="#ffffff" transform="rotate(0 984.4 893.6)"/><ellipse cx="997.7" cy="801.4" rx="13" ry="8" fill="#f2f2f2" transform="rotate(15 997.7 801.4)"/><ellipse cx="1001.5" cy="817.5" rx="20" ry="9" fill="#9e9e9e" transform="rotate(10 1001.5 817.5)"/><ellipse cx="1028.1" cy="844.1" rx="12" ry="8" fill="#9e9e9e" transform="rotate(0 1028.1 844.1)"/><ellipse cx="1106.0" cy="859.4" rx="8" ry="10" fill="#e0e0e0" transform="rotate(0 1106.0 859.4)"/><ellipse cx="1096.5" cy="876.5" rx="8" ry="8" fill="#b2b2b2" transform="rotate(0 1096.5 876.5)"/><ellipse cx="1121.2" cy="880.3" rx="6" ry="9" fill="#ffffff" transform="rotate(0 1121.2 880.3)"/><ellipse cx="1069.9" cy="863.2" rx="8" ry="9" fill="#ebebeb" transform="rotate(0 1069.9 863.2)"/><ellipse cx="1085.1" cy="937.3" rx="10" ry="13" fill="#ffffff" transform="rotate(-25 1085.1 937.3)"/><ellipse cx="1100.3" cy="918.3" rx="12" ry="8" fill="#d9d9d9" transform="rotate(-35 1100.3 918.3)"/><ellipse cx="1071.8" cy="941.1" rx="9" ry="14" fill="#9e9e9e" transform="rotate(-20 1071.8 941.1)"/><ellipse cx="1066.1" cy="962.0" rx="12" ry="9" fill="#e0e0e0" transform="rotate(0 1066.1 962.0)"/><ellipse cx="1037.6" cy="1021.0" rx="14" ry="23" fill="#9e9e9e" transform="rotate(-20 1037.6 1021.0)"/><ellipse cx="1045.2" cy="988.6" rx="10" ry="10" fill="#808080" transform="rotate(0 1045.2 988.6)"/><ellipse cx="1028.1" cy="1003.8" rx="9" ry="12" fill="#9e9e9e" transform="rotate(0 1028.1 1003.8)"/><ellipse cx="1039.5" cy="1013.3" rx="16" ry="26" fill="#949494" transform="rotate(-20 1039.5 1013.3)"/><ellipse cx="1077.5" cy="832.7" rx="14" ry="20" fill="#d9d9d9" transform="rotate(-30 1077.5 832.7)"/><path d="M908.6,786.3 L917.1,784.4 L926.6,784.4 L936.1,787.3 L939.9,793.9 L942.8,801.5 L940.9,808.2 L936.1,812.0 L930.4,808.2 L926.6,799.6 L922.8,797.7 L920.0,803.4 L917.1,810.1 L912.4,803.4 L910.5,793.9Z" fill="#fff" fill-rule="evenodd" stroke="#fff" stroke-width="10" stroke-linejoin="round"/><path d="M946.6,789.2 L952.3,790.1 L956.1,793.9 L959.9,793.0 L958.9,796.8 L954.2,795.8 L950.4,796.8Z" fill="#fff" fill-rule="evenodd" stroke="#fff" stroke-width="10" stroke-linejoin="round"/><path d="M995.1,800.0 L1000.8,800.6 L1000.8,802.9 L996.0,802.7Z" fill="#fff" fill-rule="evenodd" stroke="#fff" stroke-width="10" stroke-linejoin="round"/><path d="M1035.9,809.1 L1040.7,808.2 L1042.6,812.9 L1039.7,815.8 L1035.9,812.9Z" fill="#fff" fill-rule="evenodd" stroke="#fff" stroke-width="10" stroke-linejoin="round"/><path d="M1058.7,812.9 L1069.2,812.9 L1071.1,817.7 L1065.4,821.5 L1061.6,819.6Z" fill="#fff" fill-rule="evenodd" stroke="#fff" stroke-width="10" stroke-linejoin="round"/><path d="M1049.2,822.4 L1054.0,818.6 L1060.6,820.5 L1065.4,828.1 L1063.5,834.8 L1057.8,836.7 L1052.1,831.9Z" fill="#fff" fill-rule="evenodd" stroke="#fff" stroke-width="10" stroke-linejoin="round"/><path d="M1061.6,842.4 L1067.3,837.6 L1074.0,837.6 L1076.8,845.2 L1074.0,851.9 L1067.3,854.8 L1063.5,849.0Z" fill="#fff" fill-rule="evenodd" stroke="#fff" stroke-width="10" stroke-linejoin="round"/><path d="M1078.7,819.6 L1088.2,818.6 L1095.8,822.4 L1098.7,828.1 L1093.9,831.0 L1086.3,828.1 L1080.6,824.3Z" fill="#fff" fill-rule="evenodd" stroke="#fff" stroke-width="10" stroke-linejoin="round"/><path d="M1094.9,832.9 L1099.6,831.9 L1104.4,838.6 L1107.2,844.3 L1101.5,844.3 L1097.7,839.5Z" fill="#fff" fill-rule="evenodd" stroke="#fff" stroke-width="10" stroke-linejoin="round"/><path d="M1070.3,891.9 L1075.6,888.1 L1083.2,888.8 L1087.0,894.9 L1084.7,904.0 L1080.2,910.1 L1075.6,912.4 L1073.3,904.0Z" fill="#fff" fill-rule="evenodd" stroke="#fff" stroke-width="10" stroke-linejoin="round"/><path d="M1049.0,904.0 L1053.5,901.0 L1060.4,902.5 L1066.5,910.1 L1070.3,917.7 L1067.2,929.9 L1063.4,934.4 L1058.9,940.5 L1061.9,946.6 L1057.3,952.7 L1051.3,955.7 L1054.3,963.3 L1051.3,970.2 L1033.0,970.6 L1030.0,974.0 L1029.2,981.6 L1023.9,986.2 L1017.8,987.7 L1016.3,993.8 L1020.1,1001.4 L1021.6,1009.0 L1018.6,1010.5 L1013.2,999.8 L1009.4,984.6 L1007.1,972.5 L1008.7,955.7 L1012.5,945.1 L1018.6,938.3 L1026.9,941.3 L1034.5,937.5 L1036.0,931.4 L1034.5,920.0 L1038.3,914.7 L1045.2,919.2 L1048.2,914.7Z" fill="#fff" fill-rule="evenodd" stroke="#fff" stroke-width="10" stroke-linejoin="round"/><path d="M1080.2,940.5 L1084.0,935.2 L1090.0,935.2 L1093.1,941.3 L1089.3,948.1 L1084.0,949.7Z" fill="#fff" fill-rule="evenodd" stroke="#fff" stroke-width="10" stroke-linejoin="round"/><path d="M1061.1,968.7 L1071.0,967.9 L1075.6,972.5 L1077.9,974.8 L1071.0,987.7 L1063.4,999.8 L1061.9,993.8 L1058.1,992.2 L1061.1,981.6Z" fill="#fff" fill-rule="evenodd" stroke="#fff" stroke-width="10" stroke-linejoin="round"/><path d="M1055.1,1007.5 L1058.9,1002.9 L1062.7,1005.2 L1058.9,1013.5Z" fill="#fff" fill-rule="evenodd" stroke="#fff" stroke-width="10" stroke-linejoin="round"/><path d="M1122.4,880.4 L1125.3,879.5 L1126.2,883.6 L1123.4,884.6Z" fill="#fff" fill-rule="evenodd" stroke="#fff" stroke-width="10" stroke-linejoin="round"/></g><path d="M908.6,786.3 L917.1,784.4 L926.6,784.4 L936.1,787.3 L939.9,793.9 L942.8,801.5 L940.9,808.2 L936.1,812.0 L930.4,808.2 L926.6,799.6 L922.8,797.7 L920.0,803.4 L917.1,810.1 L912.4,803.4 L910.5,793.9Z" fill="#800000" fill-rule="evenodd" stroke="#800000" stroke-width="2.6" stroke-linejoin="round"/><path d="M946.6,789.2 L952.3,790.1 L956.1,793.9 L959.9,793.0 L958.9,796.8 L954.2,795.8 L950.4,796.8Z" fill="#800000" fill-rule="evenodd" stroke="#800000" stroke-width="2.6" stroke-linejoin="round"/><path d="M995.1,800.0 L1000.8,800.6 L1000.8,802.9 L996.0,802.7Z" fill="#800000" fill-rule="evenodd" stroke="#800000" stroke-width="2.6" stroke-linejoin="round"/><path d="M1035.9,809.1 L1040.7,808.2 L1042.6,812.9 L1039.7,815.8 L1035.9,812.9Z" fill="#800000" fill-rule="evenodd" stroke="#800000" stroke-width="2.6" stroke-linejoin="round"/><path d="M1058.7,812.9 L1069.2,812.9 L1071.1,817.7 L1065.4,821.5 L1061.6,819.6Z" fill="#800000" fill-rule="evenodd" stroke="#800000" stroke-width="2.6" stroke-linejoin="round"/><path d="M1049.2,822.4 L1054.0,818.6 L1060.6,820.5 L1065.4,828.1 L1063.5,834.8 L1057.8,836.7 L1052.1,831.9Z" fill="#800000" fill-rule="evenodd" stroke="#800000" stroke-width="2.6" stroke-linejoin="round"/><path d="M1061.6,842.4 L1067.3,837.6 L1074.0,837.6 L1076.8,845.2 L1074.0,851.9 L1067.3,854.8 L1063.5,849.0Z" fill="#800000" fill-rule="evenodd" stroke="#800000" stroke-width="2.6" stroke-linejoin="round"/><path d="M1078.7,819.6 L1088.2,818.6 L1095.8,822.4 L1098.7,828.1 L1093.9,831.0 L1086.3,828.1 L1080.6,824.3Z" fill="#800000" fill-rule="evenodd" stroke="#800000" stroke-width="2.6" stroke-linejoin="round"/><path d="M1094.9,832.9 L1099.6,831.9 L1104.4,838.6 L1107.2,844.3 L1101.5,844.3 L1097.7,839.5Z" fill="#800000" fill-rule="evenodd" stroke="#800000" stroke-width="2.6" stroke-linejoin="round"/><path d="M1070.3,891.9 L1075.6,888.1 L1083.2,888.8 L1087.0,894.9 L1084.7,904.0 L1080.2,910.1 L1075.6,912.4 L1073.3,904.0Z" fill="#800000" fill-rule="evenodd" stroke="#800000" stroke-width="2.6" stroke-linejoin="round"/><path d="M1049.0,904.0 L1053.5,901.0 L1060.4,902.5 L1066.5,910.1 L1070.3,917.7 L1067.2,929.9 L1063.4,934.4 L1058.9,940.5 L1061.9,946.6 L1057.3,952.7 L1051.3,955.7 L1054.3,963.3 L1051.3,970.2 L1033.0,970.6 L1030.0,974.0 L1029.2,981.6 L1023.9,986.2 L1017.8,987.7 L1016.3,993.8 L1020.1,1001.4 L1021.6,1009.0 L1018.6,1010.5 L1013.2,999.8 L1009.4,984.6 L1007.1,972.5 L1008.7,955.7 L1012.5,945.1 L1018.6,938.3 L1026.9,941.3 L1034.5,937.5 L1036.0,931.4 L1034.5,920.0 L1038.3,914.7 L1045.2,919.2 L1048.2,914.7Z" fill="#800000" fill-rule="evenodd" stroke="#800000" stroke-width="2.6" stroke-linejoin="round"/><path d="M1080.2,940.5 L1084.0,935.2 L1090.0,935.2 L1093.1,941.3 L1089.3,948.1 L1084.0,949.7Z" fill="#800000" fill-rule="evenodd" stroke="#800000" stroke-width="2.6" stroke-linejoin="round"/><path d="M1061.1,968.7 L1071.0,967.9 L1075.6,972.5 L1077.9,974.8 L1071.0,987.7 L1063.4,999.8 L1061.9,993.8 L1058.1,992.2 L1061.1,981.6Z" fill="#800000" fill-rule="evenodd" stroke="#800000" stroke-width="2.6" stroke-linejoin="round"/><path d="M1055.1,1007.5 L1058.9,1002.9 L1062.7,1005.2 L1058.9,1013.5Z" fill="#800000" fill-rule="evenodd" stroke="#800000" stroke-width="2.6" stroke-linejoin="round"/><path d="M1122.4,880.4 L1125.3,879.5 L1126.2,883.6 L1123.4,884.6Z" fill="#800000" fill-rule="evenodd" stroke="#800000" stroke-width="2.6" stroke-linejoin="round"/></g></g></g>
<rect x="747.40" y="695.60" width="455.00" height="459.60" fill="none" stroke="#6a6a6a" stroke-width="1.1"/>
<line x1="747.40" y1="1155.20" x2="747.40" y2="1160.20" stroke="#6a6a6a" stroke-width="1.1"/>
<line x1="742.40" y1="695.60" x2="747.40" y2="695.60" stroke="#6a6a6a" stroke-width="1.1"/>
<line x1="823.23" y1="1155.20" x2="823.23" y2="1160.20" stroke="#6a6a6a" stroke-width="1.1"/>
<line x1="742.40" y1="772.20" x2="747.40" y2="772.20" stroke="#6a6a6a" stroke-width="1.1"/>
<line x1="899.07" y1="1155.20" x2="899.07" y2="1160.20" stroke="#6a6a6a" stroke-width="1.1"/>
<line x1="742.40" y1="848.80" x2="747.40" y2="848.80" stroke="#6a6a6a" stroke-width="1.1"/>
<line x1="974.90" y1="1155.20" x2="974.90" y2="1160.20" stroke="#6a6a6a" stroke-width="1.1"/>
<line x1="742.40" y1="925.40" x2="747.40" y2="925.40" stroke="#6a6a6a" stroke-width="1.1"/>
<line x1="1050.73" y1="1155.20" x2="1050.73" y2="1160.20" stroke="#6a6a6a" stroke-width="1.1"/>
<line x1="742.40" y1="1002.00" x2="747.40" y2="1002.00" stroke="#6a6a6a" stroke-width="1.1"/>
<line x1="1126.57" y1="1155.20" x2="1126.57" y2="1160.20" stroke="#6a6a6a" stroke-width="1.1"/>
<line x1="742.40" y1="1078.60" x2="747.40" y2="1078.60" stroke="#6a6a6a" stroke-width="1.1"/>
<line x1="1202.40" y1="1155.20" x2="1202.40" y2="1160.20" stroke="#6a6a6a" stroke-width="1.1"/>
<line x1="742.40" y1="1155.20" x2="747.40" y2="1155.20" stroke="#6a6a6a" stroke-width="1.1"/>
<text x="823.2" y="1189.2" font-size="29.2" text-anchor="middle" fill="#2e2e2e" >-1000</text>
<text x="974.9" y="1189.2" font-size="29.2" text-anchor="middle" fill="#2e2e2e" >-500</text>
<text x="1126.6" y="1189.2" font-size="29.2" text-anchor="middle" fill="#2e2e2e" >0</text>
<g clip-path="url(#ax02)" shape-rendering="crispEdges"><rect x="432.70" y="1420.65" width="24.56" height="6.43" fill="#0000a2"/><rect x="420.57" y="1426.78" width="6.37" height="6.43" fill="#0000a2"/><rect x="432.70" y="1426.78" width="6.37" height="6.43" fill="#0000a2"/><rect x="463.03" y="1426.78" width="6.37" height="6.43" fill="#0000a2"/><rect x="402.37" y="1432.90" width="24.56" height="6.43" fill="#0000a2"/><rect x="432.70" y="1432.90" width="6.37" height="6.43" fill="#0000a2"/><rect x="390.24" y="1439.03" width="6.37" height="6.43" fill="#0000a2"/><rect x="402.37" y="1439.03" width="6.37" height="6.43" fill="#0000a2"/><rect x="426.64" y="1439.03" width="6.37" height="6.43" fill="#0000a2"/><rect x="384.18" y="1445.16" width="6.37" height="6.43" fill="#0000a2"/><rect x="402.37" y="1445.16" width="6.37" height="6.43" fill="#0000a2"/><rect x="420.57" y="1445.16" width="30.63" height="6.43" fill="#0000a2"/><rect x="396.31" y="1451.29" width="18.50" height="6.43" fill="#0000a2"/><rect x="420.57" y="1451.29" width="6.37" height="6.43" fill="#0000a2"/><rect x="426.64" y="1451.29" width="6.37" height="6.43" fill="#0000f3"/><rect x="432.70" y="1451.29" width="12.43" height="6.43" fill="#0000a2"/><rect x="384.18" y="1457.42" width="6.37" height="6.43" fill="#0000a2"/><rect x="402.37" y="1457.42" width="6.37" height="6.43" fill="#0000a2"/><rect x="408.44" y="1457.42" width="6.37" height="6.43" fill="#0000f3"/><rect x="414.51" y="1457.42" width="24.56" height="6.43" fill="#0000a2"/><rect x="444.83" y="1457.42" width="24.56" height="6.43" fill="#0000a2"/><rect x="384.18" y="1463.54" width="12.43" height="6.43" fill="#0000a2"/><rect x="396.31" y="1463.54" width="12.43" height="6.43" fill="#0000f3"/><rect x="408.44" y="1463.54" width="6.37" height="6.43" fill="#006bff"/><rect x="414.51" y="1463.54" width="6.37" height="6.43" fill="#0000f3"/><rect x="420.57" y="1463.54" width="42.76" height="6.43" fill="#0000a2"/><rect x="384.18" y="1469.67" width="12.43" height="6.43" fill="#0000a2"/><rect x="396.31" y="1469.67" width="6.37" height="6.43" fill="#006bff"/><rect x="402.37" y="1469.67" width="18.50" height="6.43" fill="#0000f3"/><rect x="420.57" y="1469.67" width="36.69" height="6.43" fill="#0000a2"/><rect x="463.03" y="1469.67" width="12.43" height="6.43" fill="#0000a2"/><rect x="481.22" y="1469.67" width="6.37" height="6.43" fill="#0000a2"/><rect x="378.11" y="1475.80" width="6.37" height="6.43" fill="#0000a2"/><rect x="390.24" y="1475.80" width="12.43" height="6.43" fill="#0000f3"/><rect x="402.37" y="1475.80" width="6.37" height="6.43" fill="#00d1ff"/><rect x="408.44" y="1475.80" width="12.43" height="6.43" fill="#0000f3"/><rect x="420.57" y="1475.80" width="6.37" height="6.43" fill="#0000a2"/><rect x="426.64" y="1475.80" width="6.37" height="6.43" fill="#0000f3"/><rect x="432.70" y="1475.80" width="6.37" height="6.43" fill="#0000a2"/><rect x="438.77" y="1475.80" width="6.37" height="6.43" fill="#0000f3"/><rect x="444.83" y="1475.80" width="12.43" height="6.43" fill="#0000a2"/><rect x="456.96" y="1475.80" width="6.37" height="6.43" fill="#0000f3"/><rect x="463.03" y="1475.80" width="18.50" height="6.43" fill="#0000a2"/><rect x="378.11" y="1481.93" width="12.43" height="6.43" fill="#0000a2"/><rect x="390.24" y="1481.93" width="18.50" height="6.43" fill="#00d1ff"/><rect x="408.44" y="1481.93" width="12.43" height="6.43" fill="#0000f3"/><rect x="420.57" y="1481.93" width="6.37" height="6.43" fill="#006bff"/><rect x="426.64" y="1481.93" width="18.50" height="6.43" fill="#0000f3"/><rect x="444.83" y="1481.93" width="24.56" height="6.43" fill="#0000a2"/><rect x="475.16" y="1481.93" width="12.43" height="6.43" fill="#0000a2"/><rect x="365.98" y="1488.06" width="12.43" height="6.43" fill="#0000a2"/><rect x="378.11" y="1488.06" width="12.43" height="6.43" fill="#0000f3"/><rect x="390.24" y="1488.06" width="12.43" height="6.43" fill="#8cff6b"/><rect x="402.37" y="1488.06" width="12.43" height="6.43" fill="#00d1ff"/><rect x="414.51" y="1488.06" width="12.43" height="6.43" fill="#0000f3"/><rect x="426.64" y="1488.06" width="6.37" height="6.43" fill="#006bff"/><rect x="432.70" y="1488.06" width="12.43" height="6.43" fill="#0000f3"/><rect x="444.83" y="1488.06" width="12.43" height="6.43" fill="#0000a2"/><rect x="456.96" y="1488.06" width="6.37" height="6.43" fill="#0000f3"/><rect x="463.03" y="1488.06" width="6.37" height="6.43" fill="#0000a2"/><rect x="469.09" y="1488.06" width="12.43" height="6.43" fill="#0000f3"/><rect x="481.22" y="1488.06" width="6.37" height="6.43" fill="#0000a2"/><rect x="493.35" y="1488.06" width="6.37" height="6.43" fill="#0000a2"/><rect x="372.05" y="1494.18" width="6.37" height="6.43" fill="#0000a2"/><rect x="378.11" y="1494.18" width="6.37" height="6.43" fill="#0000f3"/><rect x="384.18" y="1494.18" width="6.37" height="6.43" fill="#006bff"/><rect x="390.24" y="1494.18" width="12.43" height="6.43" fill="#29ffce"/><rect x="402.37" y="1494.18" width="30.63" height="6.43" fill="#006bff"/><rect x="432.70" y="1494.18" width="6.37" height="6.43" fill="#0000f3"/><rect x="438.77" y="1494.18" width="12.43" height="6.43" fill="#0000a2"/><rect x="456.96" y="1494.18" width="6.37" height="6.43" fill="#0000a2"/><rect x="463.03" y="1494.18" width="6.37" height="6.43" fill="#0000f3"/><rect x="469.09" y="1494.18" width="36.69" height="6.43" fill="#0000a2"/><rect x="359.92" y="1500.31" width="6.37" height="6.43" fill="#0000a2"/><rect x="372.05" y="1500.31" width="6.37" height="6.43" fill="#0000a2"/><rect x="378.11" y="1500.31" width="6.37" height="6.43" fill="#0000f3"/><rect x="384.18" y="1500.31" width="6.37" height="6.43" fill="#006bff"/><rect x="390.24" y="1500.31" width="6.37" height="6.43" fill="#29ffce"/><rect x="396.31" y="1500.31" width="24.56" height="6.43" fill="#006bff"/><rect x="420.57" y="1500.31" width="6.37" height="6.43" fill="#00d1ff"/><rect x="426.64" y="1500.31" width="12.43" height="6.43" fill="#0000f3"/><rect x="438.77" y="1500.31" width="12.43" height="6.43" fill="#0000a2"/><rect x="456.96" y="1500.31" width="12.43" height="6.43" fill="#0000a2"/><rect x="481.22" y="1500.31" width="12.43" height="6.43" fill="#0000a2"/><rect x="341.72" y="1506.44" width="12.43" height="6.43" fill="#0000a2"/><rect x="353.85" y="1506.44" width="18.50" height="6.43" fill="#0000f3"/><rect x="372.05" y="1506.44" width="6.37" height="6.43" fill="#006bff"/><rect x="378.11" y="1506.44" width="6.37" height="6.43" fill="#00d1ff"/><rect x="384.18" y="1506.44" width="6.37" height="6.43" fill="#ffd900"/><rect x="390.24" y="1506.44" width="6.37" height="6.43" fill="#29ffce"/><rect x="396.31" y="1506.44" width="6.37" height="6.43" fill="#00d1ff"/><rect x="402.37" y="1506.44" width="6.37" height="6.43" fill="#006bff"/><rect x="408.44" y="1506.44" width="6.37" height="6.43" fill="#29ffce"/><rect x="414.51" y="1506.44" width="6.37" height="6.43" fill="#8cff6b"/><rect x="420.57" y="1506.44" width="6.37" height="6.43" fill="#00d1ff"/><rect x="426.64" y="1506.44" width="12.43" height="6.43" fill="#006bff"/><rect x="438.77" y="1506.44" width="12.43" height="6.43" fill="#0000a2"/><rect x="469.09" y="1506.44" width="6.37" height="6.43" fill="#0000a2"/><rect x="481.22" y="1506.44" width="6.37" height="6.43" fill="#0000a2"/><rect x="305.33" y="1512.57" width="6.37" height="6.43" fill="#0000a2"/><rect x="341.72" y="1512.57" width="6.37" height="6.43" fill="#0000a2"/><rect x="347.79" y="1512.57" width="6.37" height="6.43" fill="#0000f3"/><rect x="353.85" y="1512.57" width="6.37" height="6.43" fill="#006bff"/><rect x="359.92" y="1512.57" width="6.37" height="6.43" fill="#0000f3"/><rect x="365.98" y="1512.57" width="6.37" height="6.43" fill="#006bff"/><rect x="372.05" y="1512.57" width="6.37" height="6.43" fill="#0000f3"/><rect x="378.11" y="1512.57" width="6.37" height="6.43" fill="#29ffce"/><rect x="384.18" y="1512.57" width="6.37" height="6.43" fill="#8cff6b"/><rect x="390.24" y="1512.57" width="12.43" height="6.43" fill="#006bff"/><rect x="402.37" y="1512.57" width="6.37" height="6.43" fill="#0000f3"/><rect x="408.44" y="1512.57" width="6.37" height="6.43" fill="#8cff6b"/><rect x="414.51" y="1512.57" width="6.37" height="6.43" fill="#ffd900"/><rect x="420.57" y="1512.57" width="6.37" height="6.43" fill="#8cff6b"/><rect x="426.64" y="1512.57" width="6.37" height="6.43" fill="#00d1ff"/><rect x="432.70" y="1512.57" width="12.43" height="6.43" fill="#0000f3"/><rect x="444.83" y="1512.57" width="12.43" height="6.43" fill="#0000a2"/><rect x="475.16" y="1512.57" width="6.37" height="6.43" fill="#0000a2"/><rect x="299.26" y="1518.70" width="6.37" height="6.43" fill="#0000a2"/><rect x="353.85" y="1518.70" width="6.37" height="6.43" fill="#0000a2"/><rect x="359.92" y="1518.70" width="12.43" height="6.43" fill="#0000f3"/><rect x="372.05" y="1518.70" width="6.37" height="6.43" fill="#006bff"/><rect x="378.11" y="1518.70" width="12.43" height="6.43" fill="#29ffce"/><rect x="390.24" y="1518.70" width="12.43" height="6.43" fill="#006bff"/><rect x="402.37" y="1518.70" width="12.43" height="6.43" fill="#00d1ff"/><rect x="414.51" y="1518.70" width="6.37" height="6.43" fill="#ff8e00"/><rect x="420.57" y="1518.70" width="6.37" height="6.43" fill="#ff2f00"/><rect x="426.64" y="1518.70" width="6.37" height="6.43" fill="#00d1ff"/><rect x="432.70" y="1518.70" width="12.43" height="6.43" fill="#006bff"/><rect x="444.83" y="1518.70" width="12.43" height="6.43" fill="#0000a2"/><rect x="463.03" y="1518.70" width="12.43" height="6.43" fill="#0000a2"/><rect x="481.22" y="1518.70" width="6.37" height="6.43" fill="#0000a2"/><rect x="299.26" y="1524.82" width="6.37" height="6.43" fill="#0000a2"/><rect x="317.46" y="1524.82" width="6.37" height="6.43" fill="#0000a2"/><rect x="353.85" y="1524.82" width="6.37" height="6.43" fill="#0000a2"/><rect x="359.92" y="1524.82" width="12.43" height="6.43" fill="#0000f3"/><rect x="372.05" y="1524.82" width="6.37" height="6.43" fill="#006bff"/><rect x="378.11" y="1524.82" width="6.37" height="6.43" fill="#8cff6b"/><rect x="384.18" y="1524.82" width="6.37" height="6.43" fill="#ff8e00"/><rect x="390.24" y="1524.82" width="6.37" height="6.43" fill="#8cff6b"/><rect x="396.31" y="1524.82" width="6.37" height="6.43" fill="#ffd900"/><rect x="402.37" y="1524.82" width="18.50" height="6.43" fill="#8cff6b"/><rect x="420.57" y="1524.82" width="6.37" height="6.43" fill="#ffd900"/><rect x="426.64" y="1524.82" width="6.37" height="6.43" fill="#006bff"/><rect x="432.70" y="1524.82" width="6.37" height="6.43" fill="#00d1ff"/><rect x="438.77" y="1524.82" width="18.50" height="6.43" fill="#0000a2"/><rect x="469.09" y="1524.82" width="6.37" height="6.43" fill="#0000a2"/><rect x="305.33" y="1530.95" width="12.43" height="6.43" fill="#0000a2"/><rect x="323.53" y="1530.95" width="18.50" height="6.43" fill="#0000a2"/><rect x="347.79" y="1530.95" width="6.37" height="6.43" fill="#0000a2"/><rect x="353.85" y="1530.95" width="6.37" height="6.43" fill="#0000f3"/><rect x="359.92" y="1530.95" width="6.37" height="6.43" fill="#006bff"/><rect x="365.98" y="1530.95" width="6.37" height="6.43" fill="#0000f3"/><rect x="372.05" y="1530.95" width="18.50" height="6.43" fill="#006bff"/><rect x="390.24" y="1530.95" width="6.37" height="6.43" fill="#ffd900"/><rect x="396.31" y="1530.95" width="18.50" height="6.43" fill="#8cff6b"/><rect x="414.51" y="1530.95" width="6.37" height="6.43" fill="#29ffce"/><rect x="420.57" y="1530.95" width="6.37" height="6.43" fill="#006bff"/><rect x="426.64" y="1530.95" width="12.43" height="6.43" fill="#0000f3"/><rect x="444.83" y="1530.95" width="6.37" height="6.43" fill="#0000a2"/><rect x="293.20" y="1537.08" width="24.56" height="6.43" fill="#0000a2"/><rect x="323.53" y="1537.08" width="12.43" height="6.43" fill="#0000f3"/><rect x="335.66" y="1537.08" width="6.37" height="6.43" fill="#0000a2"/><rect x="353.85" y="1537.08" width="6.37" height="6.43" fill="#0000a2"/><rect x="359.92" y="1537.08" width="18.50" height="6.43" fill="#0000f3"/><rect x="378.11" y="1537.08" width="12.43" height="6.43" fill="#006bff"/><rect x="390.24" y="1537.08" width="6.37" height="6.43" fill="#8cff6b"/><rect x="396.31" y="1537.08" width="12.43" height="6.43" fill="#ff8e00"/><rect x="408.44" y="1537.08" width="6.37" height="6.43" fill="#8cff6b"/><rect x="414.51" y="1537.08" width="6.37" height="6.43" fill="#29ffce"/><rect x="420.57" y="1537.08" width="6.37" height="6.43" fill="#006bff"/><rect x="426.64" y="1537.08" width="12.43" height="6.43" fill="#0000f3"/><rect x="444.83" y="1537.08" width="6.37" height="6.43" fill="#0000a2"/><rect x="317.46" y="1543.21" width="18.50" height="6.43" fill="#0000a2"/><rect x="353.85" y="1543.21" width="6.37" height="6.43" fill="#0000a2"/><rect x="359.92" y="1543.21" width="12.43" height="6.43" fill="#0000f3"/><rect x="372.05" y="1543.21" width="12.43" height="6.43" fill="#006bff"/><rect x="384.18" y="1543.21" width="6.37" height="6.43" fill="#29ffce"/><rect x="390.24" y="1543.21" width="24.56" height="6.43" fill="#8cff6b"/><rect x="414.51" y="1543.21" width="6.37" height="6.43" fill="#29ffce"/><rect x="420.57" y="1543.21" width="6.37" height="6.43" fill="#006bff"/><rect x="426.64" y="1543.21" width="6.37" height="6.43" fill="#0000f3"/><rect x="432.70" y="1543.21" width="6.37" height="6.43" fill="#0000a2"/><rect x="444.83" y="1543.21" width="6.37" height="6.43" fill="#0000a2"/><rect x="250.74" y="1549.34" width="6.37" height="6.43" fill="#0000a2"/><rect x="299.26" y="1549.34" width="6.37" height="6.43" fill="#0000a2"/><rect x="311.39" y="1549.34" width="18.50" height="6.43" fill="#0000a2"/><rect x="341.72" y="1549.34" width="6.37" height="6.43" fill="#0000a2"/><rect x="353.85" y="1549.34" width="6.37" height="6.43" fill="#0000a2"/><rect x="359.92" y="1549.34" width="12.43" height="6.43" fill="#0000f3"/><rect x="372.05" y="1549.34" width="12.43" height="6.43" fill="#006bff"/><rect x="384.18" y="1549.34" width="12.43" height="6.43" fill="#0000f3"/><rect x="396.31" y="1549.34" width="6.37" height="6.43" fill="#006bff"/><rect x="402.37" y="1549.34" width="12.43" height="6.43" fill="#00d1ff"/><rect x="414.51" y="1549.34" width="6.37" height="6.43" fill="#8cff6b"/><rect x="420.57" y="1549.34" width="6.37" height="6.43" fill="#006bff"/><rect x="426.64" y="1549.34" width="12.43" height="6.43" fill="#0000f3"/><rect x="293.20" y="1555.46" width="18.50" height="6.43" fill="#0000a2"/><rect x="311.39" y="1555.46" width="6.37" height="6.43" fill="#0000f3"/><rect x="317.46" y="1555.46" width="6.37" height="6.43" fill="#006bff"/><rect x="323.53" y="1555.46" width="6.37" height="6.43" fill="#0000f3"/><rect x="329.59" y="1555.46" width="24.56" height="6.43" fill="#0000a2"/><rect x="353.85" y="1555.46" width="18.50" height="6.43" fill="#0000f3"/><rect x="372.05" y="1555.46" width="12.43" height="6.43" fill="#006bff"/><rect x="384.18" y="1555.46" width="12.43" height="6.43" fill="#0000a2"/><rect x="396.31" y="1555.46" width="6.37" height="6.43" fill="#0000f3"/><rect x="402.37" y="1555.46" width="6.37" height="6.43" fill="#006bff"/><rect x="408.44" y="1555.46" width="12.43" height="6.43" fill="#0000f3"/><rect x="420.57" y="1555.46" width="6.37" height="6.43" fill="#006bff"/><rect x="426.64" y="1555.46" width="12.43" height="6.43" fill="#0000a2"/><rect x="299.26" y="1561.59" width="6.37" height="6.43" fill="#0000a2"/><rect x="305.33" y="1561.59" width="24.56" height="6.43" fill="#0000f3"/><rect x="329.59" y="1561.59" width="18.50" height="6.43" fill="#0000a2"/><rect x="347.79" y="1561.59" width="42.76" height="6.43" fill="#0000f3"/><rect x="390.24" y="1561.59" width="12.43" height="6.43" fill="#0000a2"/><rect x="408.44" y="1561.59" width="6.37" height="6.43" fill="#0000a2"/><rect x="414.51" y="1561.59" width="12.43" height="6.43" fill="#0000f3"/><rect x="426.64" y="1561.59" width="12.43" height="6.43" fill="#0000a2"/><rect x="293.20" y="1567.72" width="12.43" height="6.43" fill="#0000a2"/><rect x="305.33" y="1567.72" width="12.43" height="6.43" fill="#0000f3"/><rect x="317.46" y="1567.72" width="6.37" height="6.43" fill="#006bff"/><rect x="323.53" y="1567.72" width="6.37" height="6.43" fill="#00d1ff"/><rect x="329.59" y="1567.72" width="6.37" height="6.43" fill="#006bff"/><rect x="335.66" y="1567.72" width="36.69" height="6.43" fill="#0000f3"/><rect x="372.05" y="1567.72" width="24.56" height="6.43" fill="#0000a2"/><rect x="268.94" y="1573.85" width="18.50" height="6.43" fill="#0000a2"/><rect x="293.20" y="1573.85" width="12.43" height="6.43" fill="#0000a2"/><rect x="311.39" y="1573.85" width="6.37" height="6.43" fill="#0000f3"/><rect x="317.46" y="1573.85" width="6.37" height="6.43" fill="#006bff"/><rect x="323.53" y="1573.85" width="6.37" height="6.43" fill="#8cff6b"/><rect x="329.59" y="1573.85" width="6.37" height="6.43" fill="#006bff"/><rect x="335.66" y="1573.85" width="36.69" height="6.43" fill="#0000f3"/><rect x="372.05" y="1573.85" width="24.56" height="6.43" fill="#0000a2"/><rect x="262.87" y="1579.98" width="6.37" height="6.43" fill="#0000a2"/><rect x="281.07" y="1579.98" width="6.37" height="6.43" fill="#0000a2"/><rect x="293.20" y="1579.98" width="6.37" height="6.43" fill="#0000a2"/><rect x="299.26" y="1579.98" width="18.50" height="6.43" fill="#0000f3"/><rect x="317.46" y="1579.98" width="6.37" height="6.43" fill="#006bff"/><rect x="323.53" y="1579.98" width="6.37" height="6.43" fill="#29ffce"/><rect x="329.59" y="1579.98" width="6.37" height="6.43" fill="#006bff"/><rect x="335.66" y="1579.98" width="18.50" height="6.43" fill="#0000f3"/><rect x="353.85" y="1579.98" width="6.37" height="6.43" fill="#0000a2"/><rect x="359.92" y="1579.98" width="12.43" height="6.43" fill="#0000f3"/><rect x="372.05" y="1579.98" width="18.50" height="6.43" fill="#0000a2"/><rect x="262.87" y="1586.10" width="6.37" height="6.43" fill="#0000a2"/><rect x="287.13" y="1586.10" width="12.43" height="6.43" fill="#0000a2"/><rect x="299.26" y="1586.10" width="18.50" height="6.43" fill="#0000f3"/><rect x="317.46" y="1586.10" width="18.50" height="6.43" fill="#006bff"/><rect x="335.66" y="1586.10" width="30.63" height="6.43" fill="#0000f3"/><rect x="365.98" y="1586.10" width="12.43" height="6.43" fill="#0000a2"/><rect x="293.20" y="1592.23" width="6.37" height="6.43" fill="#0000a2"/><rect x="299.26" y="1592.23" width="6.37" height="6.43" fill="#0000f3"/><rect x="305.33" y="1592.23" width="6.37" height="6.43" fill="#006bff"/><rect x="311.39" y="1592.23" width="6.37" height="6.43" fill="#0000f3"/><rect x="317.46" y="1592.23" width="12.43" height="6.43" fill="#006bff"/><rect x="329.59" y="1592.23" width="6.37" height="6.43" fill="#0000a2"/><rect x="335.66" y="1592.23" width="12.43" height="6.43" fill="#0000f3"/><rect x="347.79" y="1592.23" width="6.37" height="6.43" fill="#006bff"/><rect x="353.85" y="1592.23" width="12.43" height="6.43" fill="#0000f3"/><rect x="299.26" y="1598.36" width="6.37" height="6.43" fill="#0000a2"/><rect x="305.33" y="1598.36" width="18.50" height="6.43" fill="#0000f3"/><rect x="323.53" y="1598.36" width="6.37" height="6.43" fill="#006bff"/><rect x="329.59" y="1598.36" width="6.37" height="6.43" fill="#0000f3"/><rect x="335.66" y="1598.36" width="6.37" height="6.43" fill="#0000a2"/><rect x="341.72" y="1598.36" width="6.37" height="6.43" fill="#0000f3"/><rect x="347.79" y="1598.36" width="6.37" height="6.43" fill="#00d1ff"/><rect x="353.85" y="1598.36" width="6.37" height="6.43" fill="#006bff"/><rect x="359.92" y="1598.36" width="6.37" height="6.43" fill="#0000f3"/><rect x="244.68" y="1604.49" width="6.37" height="6.43" fill="#0000a2"/><rect x="256.81" y="1604.49" width="18.50" height="6.43" fill="#0000a2"/><rect x="281.07" y="1604.49" width="12.43" height="6.43" fill="#0000a2"/><rect x="305.33" y="1604.49" width="6.37" height="6.43" fill="#0000a2"/><rect x="311.39" y="1604.49" width="6.37" height="6.43" fill="#0000f3"/><rect x="317.46" y="1604.49" width="6.37" height="6.43" fill="#00d1ff"/><rect x="323.53" y="1604.49" width="18.50" height="6.43" fill="#006bff"/><rect x="341.72" y="1604.49" width="6.37" height="6.43" fill="#00d1ff"/><rect x="347.79" y="1604.49" width="6.37" height="6.43" fill="#006bff"/><rect x="353.85" y="1604.49" width="12.43" height="6.43" fill="#0000a2"/><rect x="305.33" y="1610.62" width="12.43" height="6.43" fill="#0000f3"/><rect x="317.46" y="1610.62" width="6.37" height="6.43" fill="#006bff"/><rect x="323.53" y="1610.62" width="12.43" height="6.43" fill="#0000f3"/><rect x="335.66" y="1610.62" width="6.37" height="6.43" fill="#006bff"/><rect x="341.72" y="1610.62" width="6.37" height="6.43" fill="#00d1ff"/><rect x="347.79" y="1610.62" width="12.43" height="6.43" fill="#0000f3"/><rect x="359.92" y="1610.62" width="12.43" height="6.43" fill="#0000a2"/><rect x="299.26" y="1616.74" width="6.37" height="6.43" fill="#0000a2"/><rect x="305.33" y="1616.74" width="12.43" height="6.43" fill="#0000f3"/><rect x="317.46" y="1616.74" width="6.37" height="6.43" fill="#006bff"/><rect x="323.53" y="1616.74" width="6.37" height="6.43" fill="#00d1ff"/><rect x="329.59" y="1616.74" width="12.43" height="6.43" fill="#006bff"/><rect x="341.72" y="1616.74" width="18.50" height="6.43" fill="#0000f3"/><rect x="365.98" y="1616.74" width="6.37" height="6.43" fill="#0000a2"/><rect x="293.20" y="1622.87" width="12.43" height="6.43" fill="#0000a2"/><rect x="305.33" y="1622.87" width="6.37" height="6.43" fill="#0000f3"/><rect x="311.39" y="1622.87" width="6.37" height="6.43" fill="#006bff"/><rect x="317.46" y="1622.87" width="6.37" height="6.43" fill="#00d1ff"/><rect x="323.53" y="1622.87" width="6.37" height="6.43" fill="#8cff6b"/><rect x="329.59" y="1622.87" width="6.37" height="6.43" fill="#29ffce"/><rect x="335.66" y="1622.87" width="6.37" height="6.43" fill="#00d1ff"/><rect x="341.72" y="1622.87" width="6.37" height="6.43" fill="#0000f3"/><rect x="347.79" y="1622.87" width="6.37" height="6.43" fill="#0000a2"/><rect x="317.46" y="1629.00" width="6.37" height="6.43" fill="#0000a2"/><rect x="323.53" y="1629.00" width="12.43" height="6.43" fill="#0000f3"/><rect x="335.66" y="1629.00" width="6.37" height="6.43" fill="#0000a2"/><rect x="244.68" y="1635.13" width="6.37" height="6.43" fill="#0000a2"/><rect x="275.00" y="1635.13" width="6.37" height="6.43" fill="#0000a2"/><rect x="299.26" y="1635.13" width="18.50" height="6.43" fill="#0000a2"/><rect x="317.46" y="1635.13" width="6.37" height="6.43" fill="#0000f3"/><rect x="323.53" y="1635.13" width="6.37" height="6.43" fill="#0000a2"/><rect x="329.59" y="1635.13" width="6.37" height="6.43" fill="#0000f3"/><rect x="305.33" y="1641.26" width="12.43" height="6.43" fill="#0000a2"/><rect x="323.53" y="1641.26" width="6.37" height="6.43" fill="#0000a2"/><rect x="329.59" y="1641.26" width="6.37" height="6.43" fill="#0000f3"/><rect x="335.66" y="1641.26" width="6.37" height="6.43" fill="#0000a2"/><rect x="305.33" y="1647.38" width="12.43" height="6.43" fill="#0000a2"/><rect x="323.53" y="1647.38" width="6.37" height="6.43" fill="#0000a2"/><rect x="329.59" y="1647.38" width="6.37" height="6.43" fill="#0000f3"/><rect x="335.66" y="1647.38" width="6.37" height="6.43" fill="#0000a2"/><rect x="311.39" y="1653.51" width="6.37" height="6.43" fill="#0000a2"/><rect x="323.53" y="1653.51" width="12.43" height="6.43" fill="#0000a2"/></g><line x1="135.5" y1="1782.2" x2="590.4" y2="1322.6" stroke="#111" stroke-width="2.1" clip-path="url(#ax02)"/>
<rect x="135.50" y="1322.60" width="454.90" height="459.60" fill="none" stroke="#6a6a6a" stroke-width="1.1"/>
<line x1="135.50" y1="1782.20" x2="135.50" y2="1787.20" stroke="#6a6a6a" stroke-width="1.1"/>
<line x1="130.50" y1="1782.20" x2="135.50" y2="1782.20" stroke="#6a6a6a" stroke-width="1.1"/>
<line x1="287.13" y1="1782.20" x2="287.13" y2="1787.20" stroke="#6a6a6a" stroke-width="1.1"/>
<line x1="130.50" y1="1629.00" x2="135.50" y2="1629.00" stroke="#6a6a6a" stroke-width="1.1"/>
<line x1="438.77" y1="1782.20" x2="438.77" y2="1787.20" stroke="#6a6a6a" stroke-width="1.1"/>
<line x1="130.50" y1="1475.80" x2="135.50" y2="1475.80" stroke="#6a6a6a" stroke-width="1.1"/>
<line x1="590.40" y1="1782.20" x2="590.40" y2="1787.20" stroke="#6a6a6a" stroke-width="1.1"/>
<line x1="130.50" y1="1322.60" x2="135.50" y2="1322.60" stroke="#6a6a6a" stroke-width="1.1"/>
<text x="287.1" y="1816.2" font-size="29.2" text-anchor="middle" fill="#2e2e2e" >2.5</text>
<text x="125.3" y="1640.6" font-size="29.2" text-anchor="end" fill="#2e2e2e" >2.5</text>
<text x="438.8" y="1816.2" font-size="29.2" text-anchor="middle" fill="#2e2e2e" >5.0</text>
<text x="125.3" y="1487.4" font-size="29.2" text-anchor="end" fill="#2e2e2e" >5.0</text>
<g clip-path="url(#ax12)" shape-rendering="crispEdges"><rect x="1002.20" y="1426.78" width="18.50" height="6.43" fill="#0000a2"/><rect x="1026.47" y="1426.78" width="6.37" height="6.43" fill="#0000a2"/><rect x="1002.20" y="1432.90" width="12.43" height="6.43" fill="#0000a2"/><rect x="1014.33" y="1432.90" width="18.50" height="6.43" fill="#0000f3"/><rect x="1032.53" y="1432.90" width="6.37" height="6.43" fill="#0000a2"/><rect x="1002.20" y="1439.03" width="6.37" height="6.43" fill="#0000a2"/><rect x="1014.33" y="1439.03" width="18.50" height="6.43" fill="#0000a2"/><rect x="1008.27" y="1445.16" width="24.57" height="6.43" fill="#0000a2"/><rect x="1008.27" y="1451.29" width="30.63" height="6.43" fill="#0000a2"/><rect x="1008.27" y="1457.42" width="12.43" height="6.43" fill="#0000a2"/><rect x="1026.47" y="1457.42" width="6.37" height="6.43" fill="#0000a2"/><rect x="996.13" y="1463.54" width="18.50" height="6.43" fill="#0000a2"/><rect x="1026.47" y="1463.54" width="6.37" height="6.43" fill="#0000a2"/><rect x="1038.60" y="1463.54" width="6.37" height="6.43" fill="#0000a2"/><rect x="996.13" y="1469.67" width="18.50" height="6.43" fill="#0000a2"/><rect x="1020.40" y="1469.67" width="6.37" height="6.43" fill="#0000a2"/><rect x="1026.47" y="1469.67" width="6.37" height="6.43" fill="#0000f3"/><rect x="1032.53" y="1469.67" width="12.43" height="6.43" fill="#006bff"/><rect x="1044.67" y="1469.67" width="6.37" height="6.43" fill="#0000f3"/><rect x="1050.73" y="1469.67" width="6.37" height="6.43" fill="#0000a2"/><rect x="1062.87" y="1469.67" width="6.37" height="6.43" fill="#0000a2"/><rect x="996.13" y="1475.80" width="6.37" height="6.43" fill="#0000a2"/><rect x="1008.27" y="1475.80" width="18.50" height="6.43" fill="#0000a2"/><rect x="1026.47" y="1475.80" width="18.50" height="6.43" fill="#0000f3"/><rect x="1044.67" y="1475.80" width="6.37" height="6.43" fill="#0000a2"/><rect x="1056.80" y="1475.80" width="6.37" height="6.43" fill="#0000a2"/><rect x="996.13" y="1481.93" width="6.37" height="6.43" fill="#0000a2"/><rect x="1008.27" y="1481.93" width="6.37" height="6.43" fill="#0000a2"/><rect x="1014.33" y="1481.93" width="6.37" height="6.43" fill="#0000f3"/><rect x="1020.40" y="1481.93" width="18.50" height="6.43" fill="#29ffce"/><rect x="1038.60" y="1481.93" width="6.37" height="6.43" fill="#8cff6b"/><rect x="1044.67" y="1481.93" width="6.37" height="6.43" fill="#006bff"/><rect x="1050.73" y="1481.93" width="6.37" height="6.43" fill="#0000a2"/><rect x="990.07" y="1488.06" width="6.37" height="6.43" fill="#0000a2"/><rect x="1008.27" y="1488.06" width="6.37" height="6.43" fill="#0000f3"/><rect x="1014.33" y="1488.06" width="6.37" height="6.43" fill="#006bff"/><rect x="1020.40" y="1488.06" width="6.37" height="6.43" fill="#8cff6b"/><rect x="1026.47" y="1488.06" width="6.37" height="6.43" fill="#ff8e00"/><rect x="1032.53" y="1488.06" width="6.37" height="6.43" fill="#ff2f00"/><rect x="1038.60" y="1488.06" width="6.37" height="6.43" fill="#8cff6b"/><rect x="1044.67" y="1488.06" width="6.37" height="6.43" fill="#29ffce"/><rect x="1050.73" y="1488.06" width="6.37" height="6.43" fill="#0000f3"/><rect x="1056.80" y="1488.06" width="6.37" height="6.43" fill="#0000a2"/><rect x="984.00" y="1494.18" width="6.37" height="6.43" fill="#0000a2"/><rect x="996.13" y="1494.18" width="6.37" height="6.43" fill="#0000a2"/><rect x="1002.20" y="1494.18" width="6.37" height="6.43" fill="#0000f3"/><rect x="1008.27" y="1494.18" width="6.37" height="6.43" fill="#8cff6b"/><rect x="1014.33" y="1494.18" width="12.43" height="6.43" fill="#ffd900"/><rect x="1026.47" y="1494.18" width="12.43" height="6.43" fill="#ff8e00"/><rect x="1038.60" y="1494.18" width="6.37" height="6.43" fill="#ff2f00"/><rect x="1044.67" y="1494.18" width="6.37" height="6.43" fill="#006bff"/><rect x="1050.73" y="1494.18" width="6.37" height="6.43" fill="#0000f3"/><rect x="1056.80" y="1494.18" width="6.37" height="6.43" fill="#0000a2"/><rect x="1068.93" y="1494.18" width="6.37" height="6.43" fill="#0000a2"/><rect x="977.93" y="1500.31" width="18.50" height="6.43" fill="#0000a2"/><rect x="996.13" y="1500.31" width="6.37" height="6.43" fill="#006bff"/><rect x="1002.20" y="1500.31" width="6.37" height="6.43" fill="#00d1ff"/><rect x="1008.27" y="1500.31" width="6.37" height="6.43" fill="#ff2f00"/><rect x="1014.33" y="1500.31" width="6.37" height="6.43" fill="#ae0000"/><rect x="1020.40" y="1500.31" width="6.37" height="6.43" fill="#ff8e00"/><rect x="1026.47" y="1500.31" width="6.37" height="6.43" fill="#ff2f00"/><rect x="1032.53" y="1500.31" width="6.37" height="6.43" fill="#8cff6b"/><rect x="1038.60" y="1500.31" width="6.37" height="6.43" fill="#ffd900"/><rect x="1044.67" y="1500.31" width="6.37" height="6.43" fill="#006bff"/><rect x="1050.73" y="1500.31" width="6.37" height="6.43" fill="#0000f3"/><rect x="1056.80" y="1500.31" width="6.37" height="6.43" fill="#0000a2"/><rect x="971.87" y="1506.44" width="12.43" height="6.43" fill="#0000a2"/><rect x="984.00" y="1506.44" width="12.43" height="6.43" fill="#0000f3"/><rect x="996.13" y="1506.44" width="6.37" height="6.43" fill="#29ffce"/><rect x="1002.20" y="1506.44" width="6.37" height="6.43" fill="#ff8e00"/><rect x="1008.27" y="1506.44" width="12.43" height="6.43" fill="#ae0000"/><rect x="1020.40" y="1506.44" width="6.37" height="6.43" fill="#ff8e00"/><rect x="1026.47" y="1506.44" width="12.43" height="6.43" fill="#8cff6b"/><rect x="1038.60" y="1506.44" width="6.37" height="6.43" fill="#00d1ff"/><rect x="1044.67" y="1506.44" width="6.37" height="6.43" fill="#0000f3"/><rect x="1050.73" y="1506.44" width="6.37" height="6.43" fill="#0000a2"/><rect x="1062.87" y="1506.44" width="6.37" height="6.43" fill="#0000a2"/><rect x="923.33" y="1512.57" width="6.37" height="6.43" fill="#0000a2"/><rect x="977.93" y="1512.57" width="6.37" height="6.43" fill="#0000a2"/><rect x="984.00" y="1512.57" width="6.37" height="6.43" fill="#0000f3"/><rect x="990.07" y="1512.57" width="6.37" height="6.43" fill="#006bff"/><rect x="996.13" y="1512.57" width="6.37" height="6.43" fill="#8cff6b"/><rect x="1002.20" y="1512.57" width="12.43" height="6.43" fill="#ffd900"/><rect x="1014.33" y="1512.57" width="6.37" height="6.43" fill="#8cff6b"/><rect x="1020.40" y="1512.57" width="6.37" height="6.43" fill="#ff2f00"/><rect x="1026.47" y="1512.57" width="6.37" height="6.43" fill="#ff8e00"/><rect x="1032.53" y="1512.57" width="6.37" height="6.43" fill="#8cff6b"/><rect x="1038.60" y="1512.57" width="6.37" height="6.43" fill="#006bff"/><rect x="1044.67" y="1512.57" width="6.37" height="6.43" fill="#0000f3"/><rect x="1050.73" y="1512.57" width="6.37" height="6.43" fill="#0000a2"/><rect x="929.40" y="1518.70" width="24.57" height="6.43" fill="#0000a2"/><rect x="965.80" y="1518.70" width="18.50" height="6.43" fill="#0000a2"/><rect x="984.00" y="1518.70" width="6.37" height="6.43" fill="#0000f3"/><rect x="990.07" y="1518.70" width="6.37" height="6.43" fill="#ffd900"/><rect x="996.13" y="1518.70" width="18.50" height="6.43" fill="#ff2f00"/><rect x="1014.33" y="1518.70" width="6.37" height="6.43" fill="#ffd900"/><rect x="1020.40" y="1518.70" width="6.37" height="6.43" fill="#00d1ff"/><rect x="1026.47" y="1518.70" width="6.37" height="6.43" fill="#29ffce"/><rect x="1032.53" y="1518.70" width="6.37" height="6.43" fill="#00d1ff"/><rect x="1038.60" y="1518.70" width="6.37" height="6.43" fill="#0000f3"/><rect x="1044.67" y="1518.70" width="6.37" height="6.43" fill="#006bff"/><rect x="1050.73" y="1518.70" width="6.37" height="6.43" fill="#0000f3"/><rect x="1056.80" y="1518.70" width="6.37" height="6.43" fill="#0000a2"/><rect x="929.40" y="1524.82" width="12.43" height="6.43" fill="#0000a2"/><rect x="959.73" y="1524.82" width="6.37" height="6.43" fill="#0000a2"/><rect x="965.80" y="1524.82" width="6.37" height="6.43" fill="#0000f3"/><rect x="971.87" y="1524.82" width="6.37" height="6.43" fill="#006bff"/><rect x="977.93" y="1524.82" width="6.37" height="6.43" fill="#29ffce"/><rect x="984.00" y="1524.82" width="6.37" height="6.43" fill="#8cff6b"/><rect x="990.07" y="1524.82" width="6.37" height="6.43" fill="#00d1ff"/><rect x="996.13" y="1524.82" width="12.43" height="6.43" fill="#ffd900"/><rect x="1008.27" y="1524.82" width="6.37" height="6.43" fill="#00d1ff"/><rect x="1014.33" y="1524.82" width="6.37" height="6.43" fill="#8cff6b"/><rect x="1020.40" y="1524.82" width="6.37" height="6.43" fill="#00d1ff"/><rect x="1026.47" y="1524.82" width="18.50" height="6.43" fill="#006bff"/><rect x="1044.67" y="1524.82" width="12.43" height="6.43" fill="#0000f3"/><rect x="1056.80" y="1524.82" width="6.37" height="6.43" fill="#0000a2"/><rect x="899.07" y="1530.95" width="6.37" height="6.43" fill="#0000a2"/><rect x="911.20" y="1530.95" width="6.37" height="6.43" fill="#0000a2"/><rect x="917.27" y="1530.95" width="18.50" height="6.43" fill="#0000f3"/><rect x="935.47" y="1530.95" width="6.37" height="6.43" fill="#006bff"/><rect x="941.53" y="1530.95" width="6.37" height="6.43" fill="#0000a2"/><rect x="953.67" y="1530.95" width="18.50" height="6.43" fill="#0000a2"/><rect x="971.87" y="1530.95" width="6.37" height="6.43" fill="#0000f3"/><rect x="977.93" y="1530.95" width="12.43" height="6.43" fill="#006bff"/><rect x="990.07" y="1530.95" width="12.43" height="6.43" fill="#8cff6b"/><rect x="1002.20" y="1530.95" width="6.37" height="6.43" fill="#ffd900"/><rect x="1008.27" y="1530.95" width="6.37" height="6.43" fill="#ff8e00"/><rect x="1014.33" y="1530.95" width="6.37" height="6.43" fill="#00d1ff"/><rect x="1020.40" y="1530.95" width="6.37" height="6.43" fill="#006bff"/><rect x="1026.47" y="1530.95" width="18.50" height="6.43" fill="#0000f3"/><rect x="1044.67" y="1530.95" width="6.37" height="6.43" fill="#0000a2"/><rect x="1050.73" y="1530.95" width="6.37" height="6.43" fill="#0000f3"/><rect x="1056.80" y="1530.95" width="12.43" height="6.43" fill="#0000a2"/><rect x="905.13" y="1537.08" width="18.50" height="6.43" fill="#0000a2"/><rect x="923.33" y="1537.08" width="12.43" height="6.43" fill="#0000f3"/><rect x="935.47" y="1537.08" width="12.43" height="6.43" fill="#0000a2"/><rect x="959.73" y="1537.08" width="12.43" height="6.43" fill="#0000a2"/><rect x="971.87" y="1537.08" width="12.43" height="6.43" fill="#29ffce"/><rect x="984.00" y="1537.08" width="24.57" height="6.43" fill="#8cff6b"/><rect x="1008.27" y="1537.08" width="6.37" height="6.43" fill="#29ffce"/><rect x="1014.33" y="1537.08" width="6.37" height="6.43" fill="#00d1ff"/><rect x="1020.40" y="1537.08" width="30.63" height="6.43" fill="#0000f3"/><rect x="1050.73" y="1537.08" width="6.37" height="6.43" fill="#006bff"/><rect x="1056.80" y="1537.08" width="12.43" height="6.43" fill="#0000a2"/><rect x="868.73" y="1543.21" width="6.37" height="6.43" fill="#0000a2"/><rect x="899.07" y="1543.21" width="6.37" height="6.43" fill="#0000a2"/><rect x="905.13" y="1543.21" width="6.37" height="6.43" fill="#0000f3"/><rect x="911.20" y="1543.21" width="18.50" height="6.43" fill="#0000a2"/><rect x="929.40" y="1543.21" width="12.43" height="6.43" fill="#0000f3"/><rect x="941.53" y="1543.21" width="6.37" height="6.43" fill="#006bff"/><rect x="947.60" y="1543.21" width="6.37" height="6.43" fill="#0000a2"/><rect x="953.67" y="1543.21" width="6.37" height="6.43" fill="#0000f3"/><rect x="959.73" y="1543.21" width="6.37" height="6.43" fill="#0000a2"/><rect x="965.80" y="1543.21" width="12.43" height="6.43" fill="#0000f3"/><rect x="977.93" y="1543.21" width="6.37" height="6.43" fill="#006bff"/><rect x="984.00" y="1543.21" width="6.37" height="6.43" fill="#00d1ff"/><rect x="990.07" y="1543.21" width="6.37" height="6.43" fill="#8cff6b"/><rect x="996.13" y="1543.21" width="6.37" height="6.43" fill="#29ffce"/><rect x="1002.20" y="1543.21" width="6.37" height="6.43" fill="#006bff"/><rect x="1008.27" y="1543.21" width="6.37" height="6.43" fill="#0000f3"/><rect x="1014.33" y="1543.21" width="6.37" height="6.43" fill="#0000a2"/><rect x="1020.40" y="1543.21" width="6.37" height="6.43" fill="#0000f3"/><rect x="1026.47" y="1543.21" width="6.37" height="6.43" fill="#0000a2"/><rect x="1032.53" y="1543.21" width="6.37" height="6.43" fill="#0000f3"/><rect x="1038.60" y="1543.21" width="6.37" height="6.43" fill="#0000a2"/><rect x="862.67" y="1549.34" width="6.37" height="6.43" fill="#0000a2"/><rect x="899.07" y="1549.34" width="6.37" height="6.43" fill="#0000f3"/><rect x="905.13" y="1549.34" width="12.43" height="6.43" fill="#0000a2"/><rect x="923.33" y="1549.34" width="6.37" height="6.43" fill="#0000a2"/><rect x="929.40" y="1549.34" width="6.37" height="6.43" fill="#0000f3"/><rect x="935.47" y="1549.34" width="6.37" height="6.43" fill="#0000a2"/><rect x="941.53" y="1549.34" width="6.37" height="6.43" fill="#0000f3"/><rect x="947.60" y="1549.34" width="6.37" height="6.43" fill="#0000a2"/><rect x="953.67" y="1549.34" width="12.43" height="6.43" fill="#0000f3"/><rect x="965.80" y="1549.34" width="6.37" height="6.43" fill="#0000a2"/><rect x="971.87" y="1549.34" width="6.37" height="6.43" fill="#006bff"/><rect x="977.93" y="1549.34" width="12.43" height="6.43" fill="#0000f3"/><rect x="990.07" y="1549.34" width="6.37" height="6.43" fill="#00d1ff"/><rect x="996.13" y="1549.34" width="12.43" height="6.43" fill="#0000f3"/><rect x="1008.27" y="1549.34" width="12.43" height="6.43" fill="#0000a2"/><rect x="1026.47" y="1549.34" width="6.37" height="6.43" fill="#0000a2"/><rect x="850.53" y="1555.46" width="6.37" height="6.43" fill="#0000a2"/><rect x="862.67" y="1555.46" width="6.37" height="6.43" fill="#0000f3"/><rect x="868.73" y="1555.46" width="12.43" height="6.43" fill="#0000a2"/><rect x="886.93" y="1555.46" width="12.43" height="6.43" fill="#0000a2"/><rect x="905.13" y="1555.46" width="6.37" height="6.43" fill="#0000a2"/><rect x="917.27" y="1555.46" width="6.37" height="6.43" fill="#0000f3"/><rect x="923.33" y="1555.46" width="6.37" height="6.43" fill="#006bff"/><rect x="929.40" y="1555.46" width="12.43" height="6.43" fill="#29ffce"/><rect x="941.53" y="1555.46" width="6.37" height="6.43" fill="#00d1ff"/><rect x="947.60" y="1555.46" width="18.50" height="6.43" fill="#0000f3"/><rect x="965.80" y="1555.46" width="12.43" height="6.43" fill="#006bff"/><rect x="977.93" y="1555.46" width="12.43" height="6.43" fill="#0000f3"/><rect x="990.07" y="1555.46" width="6.37" height="6.43" fill="#006bff"/><rect x="996.13" y="1555.46" width="6.37" height="6.43" fill="#0000a2"/><rect x="1002.20" y="1555.46" width="6.37" height="6.43" fill="#0000f3"/><rect x="1008.27" y="1555.46" width="6.37" height="6.43" fill="#0000a2"/><rect x="856.60" y="1561.59" width="12.43" height="6.43" fill="#0000a2"/><rect x="874.80" y="1561.59" width="6.37" height="6.43" fill="#0000a2"/><rect x="893.00" y="1561.59" width="6.37" height="6.43" fill="#0000a2"/><rect x="905.13" y="1561.59" width="12.43" height="6.43" fill="#0000a2"/><rect x="917.27" y="1561.59" width="12.43" height="6.43" fill="#0000f3"/><rect x="929.40" y="1561.59" width="6.37" height="6.43" fill="#006bff"/><rect x="935.47" y="1561.59" width="6.37" height="6.43" fill="#8cff6b"/><rect x="941.53" y="1561.59" width="6.37" height="6.43" fill="#ffd900"/><rect x="947.60" y="1561.59" width="6.37" height="6.43" fill="#006bff"/><rect x="953.67" y="1561.59" width="6.37" height="6.43" fill="#0000f3"/><rect x="959.73" y="1561.59" width="18.50" height="6.43" fill="#006bff"/><rect x="977.93" y="1561.59" width="6.37" height="6.43" fill="#0000f3"/><rect x="984.00" y="1561.59" width="12.43" height="6.43" fill="#0000a2"/><rect x="996.13" y="1561.59" width="12.43" height="6.43" fill="#0000f3"/><rect x="1008.27" y="1561.59" width="18.50" height="6.43" fill="#0000a2"/><rect x="856.60" y="1567.72" width="12.43" height="6.43" fill="#0000a2"/><rect x="886.93" y="1567.72" width="6.37" height="6.43" fill="#0000a2"/><rect x="899.07" y="1567.72" width="12.43" height="6.43" fill="#0000a2"/><rect x="911.20" y="1567.72" width="18.50" height="6.43" fill="#0000f3"/><rect x="929.40" y="1567.72" width="6.37" height="6.43" fill="#006bff"/><rect x="935.47" y="1567.72" width="6.37" height="6.43" fill="#8cff6b"/><rect x="941.53" y="1567.72" width="6.37" height="6.43" fill="#29ffce"/><rect x="947.60" y="1567.72" width="18.50" height="6.43" fill="#006bff"/><rect x="965.80" y="1567.72" width="6.37" height="6.43" fill="#00d1ff"/><rect x="971.87" y="1567.72" width="12.43" height="6.43" fill="#0000f3"/><rect x="984.00" y="1567.72" width="12.43" height="6.43" fill="#0000a2"/><rect x="1008.27" y="1567.72" width="6.37" height="6.43" fill="#0000a2"/><rect x="868.73" y="1573.85" width="6.37" height="6.43" fill="#0000a2"/><rect x="911.20" y="1573.85" width="18.50" height="6.43" fill="#0000f3"/><rect x="929.40" y="1573.85" width="6.37" height="6.43" fill="#006bff"/><rect x="935.47" y="1573.85" width="6.37" height="6.43" fill="#29ffce"/><rect x="941.53" y="1573.85" width="24.57" height="6.43" fill="#00d1ff"/><rect x="965.80" y="1573.85" width="6.37" height="6.43" fill="#006bff"/><rect x="971.87" y="1573.85" width="6.37" height="6.43" fill="#0000f3"/><rect x="984.00" y="1573.85" width="6.37" height="6.43" fill="#0000a2"/><rect x="868.73" y="1579.98" width="6.37" height="6.43" fill="#0000a2"/><rect x="923.33" y="1579.98" width="18.50" height="6.43" fill="#0000f3"/><rect x="941.53" y="1579.98" width="6.37" height="6.43" fill="#006bff"/><rect x="947.60" y="1579.98" width="12.43" height="6.43" fill="#29ffce"/><rect x="959.73" y="1579.98" width="6.37" height="6.43" fill="#00d1ff"/><rect x="965.80" y="1579.98" width="12.43" height="6.43" fill="#0000f3"/><rect x="868.73" y="1586.10" width="6.37" height="6.43" fill="#0000a2"/><rect x="923.33" y="1586.10" width="6.37" height="6.43" fill="#006bff"/><rect x="929.40" y="1586.10" width="6.37" height="6.43" fill="#0000f3"/><rect x="935.47" y="1586.10" width="24.57" height="6.43" fill="#006bff"/><rect x="959.73" y="1586.10" width="12.43" height="6.43" fill="#0000f3"/><rect x="971.87" y="1586.10" width="12.43" height="6.43" fill="#0000a2"/><rect x="862.67" y="1592.23" width="12.43" height="6.43" fill="#0000a2"/><rect x="917.27" y="1592.23" width="6.37" height="6.43" fill="#0000a2"/><rect x="923.33" y="1592.23" width="12.43" height="6.43" fill="#006bff"/><rect x="935.47" y="1592.23" width="6.37" height="6.43" fill="#00d1ff"/><rect x="941.53" y="1592.23" width="6.37" height="6.43" fill="#8cff6b"/><rect x="947.60" y="1592.23" width="6.37" height="6.43" fill="#29ffce"/><rect x="953.67" y="1592.23" width="6.37" height="6.43" fill="#006bff"/><rect x="959.73" y="1592.23" width="12.43" height="6.43" fill="#0000f3"/><rect x="808.07" y="1598.36" width="6.37" height="6.43" fill="#0000a2"/><rect x="862.67" y="1598.36" width="12.43" height="6.43" fill="#0000a2"/><rect x="923.33" y="1598.36" width="6.37" height="6.43" fill="#0000f3"/><rect x="929.40" y="1598.36" width="6.37" height="6.43" fill="#00d1ff"/><rect x="935.47" y="1598.36" width="6.37" height="6.43" fill="#29ffce"/><rect x="941.53" y="1598.36" width="6.37" height="6.43" fill="#ffd900"/><rect x="947.60" y="1598.36" width="6.37" height="6.43" fill="#006bff"/><rect x="953.67" y="1598.36" width="12.43" height="6.43" fill="#0000f3"/><rect x="965.80" y="1598.36" width="6.37" height="6.43" fill="#0000a2"/><rect x="977.93" y="1598.36" width="6.37" height="6.43" fill="#0000a2"/><rect x="862.67" y="1604.49" width="12.43" height="6.43" fill="#0000a2"/><rect x="917.27" y="1604.49" width="6.37" height="6.43" fill="#0000a2"/><rect x="923.33" y="1604.49" width="6.37" height="6.43" fill="#0000f3"/><rect x="929.40" y="1604.49" width="6.37" height="6.43" fill="#006bff"/><rect x="935.47" y="1604.49" width="6.37" height="6.43" fill="#8cff6b"/><rect x="941.53" y="1604.49" width="6.37" height="6.43" fill="#006bff"/><rect x="947.60" y="1604.49" width="12.43" height="6.43" fill="#0000f3"/><rect x="959.73" y="1604.49" width="6.37" height="6.43" fill="#0000a2"/><rect x="971.87" y="1604.49" width="6.37" height="6.43" fill="#0000a2"/><rect x="856.60" y="1610.62" width="6.37" height="6.43" fill="#0000a2"/><rect x="862.67" y="1610.62" width="6.37" height="6.43" fill="#0000f3"/><rect x="868.73" y="1610.62" width="18.50" height="6.43" fill="#0000a2"/><rect x="917.27" y="1610.62" width="12.43" height="6.43" fill="#0000a2"/><rect x="929.40" y="1610.62" width="24.57" height="6.43" fill="#0000f3"/><rect x="953.67" y="1610.62" width="6.37" height="6.43" fill="#006bff"/><rect x="959.73" y="1610.62" width="6.37" height="6.43" fill="#0000f3"/><rect x="965.80" y="1610.62" width="12.43" height="6.43" fill="#0000a2"/><rect x="862.67" y="1616.74" width="6.37" height="6.43" fill="#0000a2"/><rect x="874.80" y="1616.74" width="6.37" height="6.43" fill="#0000a2"/><rect x="886.93" y="1616.74" width="6.37" height="6.43" fill="#0000a2"/><rect x="917.27" y="1616.74" width="12.43" height="6.43" fill="#0000a2"/><rect x="929.40" y="1616.74" width="12.43" height="6.43" fill="#0000f3"/><rect x="941.53" y="1616.74" width="6.37" height="6.43" fill="#0000a2"/><rect x="862.67" y="1622.87" width="6.37" height="6.43" fill="#0000a2"/><rect x="874.80" y="1622.87" width="12.43" height="6.43" fill="#0000a2"/><rect x="911.20" y="1622.87" width="6.37" height="6.43" fill="#0000a2"/><rect x="862.67" y="1629.00" width="6.37" height="6.43" fill="#0000a2"/><rect x="880.87" y="1629.00" width="12.43" height="6.43" fill="#0000a2"/><rect x="905.13" y="1629.00" width="12.43" height="6.43" fill="#0000a2"/><rect x="856.60" y="1635.13" width="12.43" height="6.43" fill="#0000a2"/><rect x="880.87" y="1635.13" width="24.57" height="6.43" fill="#0000a2"/><rect x="856.60" y="1641.26" width="6.37" height="6.43" fill="#0000f3"/><rect x="862.67" y="1641.26" width="6.37" height="6.43" fill="#0000a2"/><rect x="893.00" y="1641.26" width="6.37" height="6.43" fill="#0000a2"/><rect x="850.53" y="1647.38" width="18.50" height="6.43" fill="#0000a2"/></g><line x1="747.4" y1="1782.2" x2="1202.4" y2="1322.6" stroke="#111" stroke-width="2.1" clip-path="url(#ax12)"/>
<rect x="747.40" y="1322.60" width="455.00" height="459.60" fill="none" stroke="#6a6a6a" stroke-width="1.1"/>
<line x1="747.40" y1="1782.20" x2="747.40" y2="1787.20" stroke="#6a6a6a" stroke-width="1.1"/>
<line x1="742.40" y1="1782.20" x2="747.40" y2="1782.20" stroke="#6a6a6a" stroke-width="1.1"/>
<line x1="899.07" y1="1782.20" x2="899.07" y2="1787.20" stroke="#6a6a6a" stroke-width="1.1"/>
<line x1="742.40" y1="1629.00" x2="747.40" y2="1629.00" stroke="#6a6a6a" stroke-width="1.1"/>
<line x1="1050.73" y1="1782.20" x2="1050.73" y2="1787.20" stroke="#6a6a6a" stroke-width="1.1"/>
<line x1="742.40" y1="1475.80" x2="747.40" y2="1475.80" stroke="#6a6a6a" stroke-width="1.1"/>
<line x1="1202.40" y1="1782.20" x2="1202.40" y2="1787.20" stroke="#6a6a6a" stroke-width="1.1"/>
<line x1="742.40" y1="1322.60" x2="747.40" y2="1322.60" stroke="#6a6a6a" stroke-width="1.1"/>
<text x="899.1" y="1816.2" font-size="29.2" text-anchor="middle" fill="#2e2e2e" >2.5</text>
<text x="1050.7" y="1816.2" font-size="29.2" text-anchor="middle" fill="#2e2e2e" >5.0</text>
<rect x="618.90" y="68.30" width="23.10" height="459.60" fill="url(#gjr)" stroke="#333" stroke-width="0.9"/>
<line x1="642.00" y1="199.61" x2="647.00" y2="199.61" stroke="#6a6a6a" stroke-width="1.1"/>
<text x="652.2" y="211.1" font-size="29.2" text-anchor="start" fill="#2e2e2e" >5.0</text>
<line x1="642.00" y1="363.76" x2="647.00" y2="363.76" stroke="#6a6a6a" stroke-width="1.1"/>
<text x="652.2" y="375.3" font-size="29.2" text-anchor="start" fill="#2e2e2e" >2.5</text>
<rect x="618.90" y="695.60" width="23.10" height="459.60" fill="url(#gj)" stroke="#333" stroke-width="0.9"/>
<line x1="642.00" y1="695.60" x2="647.00" y2="695.60" stroke="#6a6a6a" stroke-width="1.1"/>
<text x="652.2" y="707.1" font-size="29.2" text-anchor="start" fill="#2e2e2e" >2</text>
<line x1="642.00" y1="925.40" x2="647.00" y2="925.40" stroke="#6a6a6a" stroke-width="1.1"/>
<text x="652.2" y="936.9" font-size="29.2" text-anchor="start" fill="#2e2e2e" >1</text>
<line x1="642.00" y1="1155.20" x2="647.00" y2="1155.20" stroke="#6a6a6a" stroke-width="1.1"/>
<text x="652.2" y="1166.7" font-size="29.2" text-anchor="start" fill="#2e2e2e" >0</text>
<rect x="618.90" y="1322.60" width="23.10" height="459.60" fill="url(#gj)" stroke="#333" stroke-width="0.9"/>
<line x1="642.00" y1="1322.60" x2="647.00" y2="1322.60" stroke="#6a6a6a" stroke-width="1.1"/>
<text x="652.2" y="1334.1" font-size="29.2" text-anchor="start" fill="#2e2e2e" >50</text>
<line x1="642.00" y1="1552.40" x2="647.00" y2="1552.40" stroke="#6a6a6a" stroke-width="1.1"/>
<text x="652.2" y="1563.9" font-size="29.2" text-anchor="start" fill="#2e2e2e" >25</text>
<line x1="642.00" y1="1782.20" x2="647.00" y2="1782.20" stroke="#6a6a6a" stroke-width="1.1"/>
<text x="652.2" y="1793.7" font-size="29.2" text-anchor="start" fill="#2e2e2e" >0</text>
<text x="636.5" y="22.6" font-size="23.6" fill="#2e2e2e"><tspan font-style="oblique">h</tspan> [m]</text>
<text x="636.5" y="650.2" font-size="23.6" fill="#2e2e2e"><tspan font-style="oblique">ε</tspan> [m]</text>
<text x="636.5" y="1276.8" font-size="23.6" fill="#2e2e2e"><tspan font-style="oblique">n</tspan></text>
<rect x="1230.60" y="68.30" width="23.10" height="459.60" fill="url(#gjr)" stroke="#333" stroke-width="0.9"/>
<line x1="1253.70" y1="199.61" x2="1258.70" y2="199.61" stroke="#6a6a6a" stroke-width="1.1"/>
<text x="1263.9" y="211.1" font-size="29.2" text-anchor="start" fill="#2e2e2e" >5.0</text>
<line x1="1253.70" y1="363.76" x2="1258.70" y2="363.76" stroke="#6a6a6a" stroke-width="1.1"/>
<text x="1263.9" y="375.3" font-size="29.2" text-anchor="start" fill="#2e2e2e" >2.5</text>
<rect x="1230.60" y="695.60" width="23.10" height="459.60" fill="url(#gj)" stroke="#333" stroke-width="0.9"/>
<line x1="1253.70" y1="695.60" x2="1258.70" y2="695.60" stroke="#6a6a6a" stroke-width="1.1"/>
<text x="1263.9" y="707.1" font-size="29.2" text-anchor="start" fill="#2e2e2e" >2</text>
<line x1="1253.70" y1="925.40" x2="1258.70" y2="925.40" stroke="#6a6a6a" stroke-width="1.1"/>
<text x="1263.9" y="936.9" font-size="29.2" text-anchor="start" fill="#2e2e2e" >1</text>
<line x1="1253.70" y1="1155.20" x2="1258.70" y2="1155.20" stroke="#6a6a6a" stroke-width="1.1"/>
<text x="1263.9" y="1166.7" font-size="29.2" text-anchor="start" fill="#2e2e2e" >0</text>
<rect x="1230.60" y="1322.60" width="23.10" height="459.60" fill="url(#gj)" stroke="#333" stroke-width="0.9"/>
<line x1="1253.70" y1="1322.60" x2="1258.70" y2="1322.60" stroke="#6a6a6a" stroke-width="1.1"/>
<text x="1263.9" y="1334.1" font-size="29.2" text-anchor="start" fill="#2e2e2e" >50</text>
<line x1="1253.70" y1="1552.40" x2="1258.70" y2="1552.40" stroke="#6a6a6a" stroke-width="1.1"/>
<text x="1263.9" y="1563.9" font-size="29.2" text-anchor="start" fill="#2e2e2e" >25</text>
<line x1="1253.70" y1="1782.20" x2="1258.70" y2="1782.20" stroke="#6a6a6a" stroke-width="1.1"/>
<text x="1263.9" y="1793.7" font-size="29.2" text-anchor="start" fill="#2e2e2e" >0</text>
<text x="1248.2" y="22.6" font-size="23.6" fill="#2e2e2e"><tspan font-style="oblique">h</tspan> [m]</text>
<text x="1248.2" y="650.2" font-size="23.6" fill="#2e2e2e"><tspan font-style="oblique">ε</tspan> [m]</text>
<text x="1248.2" y="1276.8" font-size="23.6" fill="#2e2e2e"><tspan font-style="oblique">n</tspan></text>
<text x="362.9" y="59.4" font-size="35.6" text-anchor="middle" fill="#1a1a1a" >video 1</text>
<text x="974.9" y="59.4" font-size="35.6" text-anchor="middle" fill="#1a1a1a" >video 2</text>
<text x="362.9" y="595.9" font-size="29.8" text-anchor="middle" fill="#2e2e2e"><tspan font-style="oblique">x</tspan> [m]</text>
<text x="362.9" y="1223.2" font-size="29.8" text-anchor="middle" fill="#2e2e2e"><tspan font-style="oblique">x</tspan> [m]</text>
<text x="362.9" y="1851.2" font-size="29.8" text-anchor="middle" fill="#2e2e2e"><tspan font-style="oblique">h</tspan><tspan font-style="oblique" font-size="20.5" dy="5">m</tspan><tspan dy="-5"> [m]</tspan></text>
<text x="974.9" y="595.9" font-size="29.8" text-anchor="middle" fill="#2e2e2e"><tspan font-style="oblique">x</tspan> [m]</text>
<text x="974.9" y="1223.2" font-size="29.8" text-anchor="middle" fill="#2e2e2e"><tspan font-style="oblique">x</tspan> [m]</text>
<text x="974.9" y="1851.2" font-size="29.8" text-anchor="middle" fill="#2e2e2e"><tspan font-style="oblique">h</tspan><tspan font-style="oblique" font-size="20.5" dy="5">m</tspan><tspan dy="-5"> [m]</tspan></text>
<text transform="translate(26.7,298.1) rotate(-90)" font-size="29.8" text-anchor="middle" fill="#2e2e2e"><tspan font-style="oblique">y</tspan> [m]</text>
<text transform="translate(26.7,925.4) rotate(-90)" font-size="29.8" text-anchor="middle" fill="#2e2e2e"><tspan font-style="oblique">y</tspan> [m]</text>
<text transform="translate(67.2,1552.4) rotate(-90)" font-size="29.8" text-anchor="middle" fill="#2e2e2e"><tspan font-style="oblique">h</tspan><tspan font-style="oblique" font-size="20.5" dy="5">c</tspan><tspan dy="-5"> [m]</tspan></text>
<text x="173.0" y="165.0" font-size="43" text-anchor="start" fill="#000" >A</text>
<text x="784.9" y="165.0" font-size="43" text-anchor="start" fill="#000" >B</text>
<text x="173.0" y="792.3" font-size="43" text-anchor="start" fill="#000" >C</text>
<text x="784.9" y="792.3" font-size="43" text-anchor="start" fill="#000" >D</text>
<text x="173.0" y="1419.3" font-size="43" text-anchor="start" fill="#000" >E</text>
<text x="784.9" y="1419.3" font-size="43" text-anchor="start" fill="#000" >F</text>
<text x="227.5" y="1752.0" font-size="20.7" text-anchor="start" fill="#444" >49%</text>
<text x="348.0" y="1690.4" font-size="20.7" text-anchor="start" fill="#444" >RMSE=0.52m</text>
<text x="348.0" y="1752.0" font-size="20.7" text-anchor="start" fill="#444" >bias=0.17m</text>
<text x="839.4" y="1752.0" font-size="20.7" text-anchor="start" fill="#444" >73%</text>
<text x="959.9" y="1690.4" font-size="20.7" text-anchor="start" fill="#444" >RMSE=0.40m</text>
<text x="959.9" y="1752.0" font-size="20.7" text-anchor="start" fill="#444" >bias=0.01m</text>
</svg>
</body></html>
